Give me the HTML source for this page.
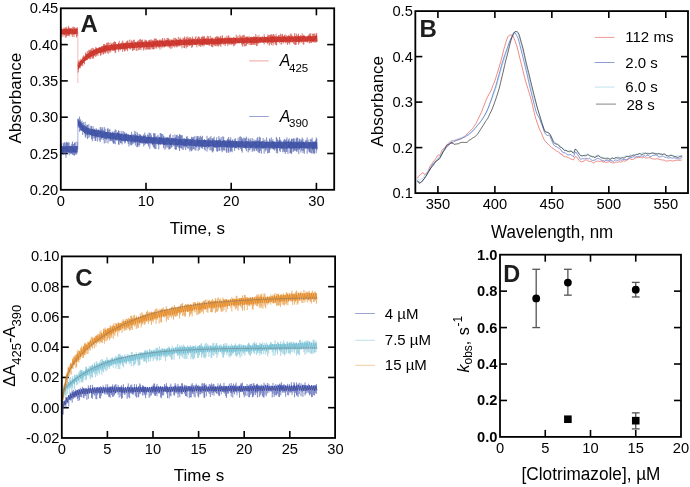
<!DOCTYPE html>
<html><head><meta charset="utf-8"><style>
html,body{margin:0;padding:0;background:#fff;width:690px;height:487px;overflow:hidden}
svg{display:block;will-change:transform}
text{font-family:"Liberation Sans",sans-serif;fill:#000}
</style></head><body>
<svg width="690" height="487" viewBox="0 0 690 487">
<rect width="690" height="487" fill="#fff"/>
<line x1="60.80" y1="153.50" x2="67.80" y2="153.50" stroke="#000" stroke-width="1.6"/>
<line x1="334.20" y1="153.50" x2="327.20" y2="153.50" stroke="#000" stroke-width="1.6"/>
<line x1="60.80" y1="117.20" x2="67.80" y2="117.20" stroke="#000" stroke-width="1.6"/>
<line x1="334.20" y1="117.20" x2="327.20" y2="117.20" stroke="#000" stroke-width="1.6"/>
<line x1="60.80" y1="80.90" x2="67.80" y2="80.90" stroke="#000" stroke-width="1.6"/>
<line x1="334.20" y1="80.90" x2="327.20" y2="80.90" stroke="#000" stroke-width="1.6"/>
<line x1="60.80" y1="44.60" x2="67.80" y2="44.60" stroke="#000" stroke-width="1.6"/>
<line x1="334.20" y1="44.60" x2="327.20" y2="44.60" stroke="#000" stroke-width="1.6"/>
<line x1="146.00" y1="189.80" x2="146.00" y2="182.80" stroke="#000" stroke-width="1.6"/>
<line x1="146.00" y1="8.30" x2="146.00" y2="15.30" stroke="#000" stroke-width="1.6"/>
<line x1="231.20" y1="189.80" x2="231.20" y2="182.80" stroke="#000" stroke-width="1.6"/>
<line x1="231.20" y1="8.30" x2="231.20" y2="15.30" stroke="#000" stroke-width="1.6"/>
<line x1="316.40" y1="189.80" x2="316.40" y2="182.80" stroke="#000" stroke-width="1.6"/>
<line x1="316.40" y1="8.30" x2="316.40" y2="15.30" stroke="#000" stroke-width="1.6"/>
<text transform="translate(58.30 13.30)" font-size="14.7" text-anchor="end" font-weight="normal" font-style="normal">0.45</text>
<text transform="translate(58.30 49.60)" font-size="14.7" text-anchor="end" font-weight="normal" font-style="normal">0.40</text>
<text transform="translate(58.30 85.90)" font-size="14.7" text-anchor="end" font-weight="normal" font-style="normal">0.35</text>
<text transform="translate(58.30 122.20)" font-size="14.7" text-anchor="end" font-weight="normal" font-style="normal">0.30</text>
<text transform="translate(58.30 158.50)" font-size="14.7" text-anchor="end" font-weight="normal" font-style="normal">0.25</text>
<text transform="translate(58.30 194.80)" font-size="14.7" text-anchor="end" font-weight="normal" font-style="normal">0.20</text>
<text transform="translate(60.80 206.00)" font-size="14.7" text-anchor="middle" font-weight="normal" font-style="normal">0</text>
<text transform="translate(146.00 206.00)" font-size="14.7" text-anchor="middle" font-weight="normal" font-style="normal">10</text>
<text transform="translate(231.20 206.00)" font-size="14.7" text-anchor="middle" font-weight="normal" font-style="normal">20</text>
<text transform="translate(316.40 206.00)" font-size="14.7" text-anchor="middle" font-weight="normal" font-style="normal">30</text>
<text transform="translate(20.50 98.20) rotate(-90)" font-size="17" text-anchor="middle" font-weight="normal" font-style="normal">Absorbance</text>
<text transform="translate(197.40 234.00)" font-size="17" text-anchor="middle" font-weight="normal" font-style="normal">Time, s</text>
<text transform="translate(80.50 31.60)" font-size="24" text-anchor="start" font-weight="bold" font-style="normal" style="fill:#1e1e1e">A</text>
<line x1="249.20" y1="60.90" x2="268.70" y2="60.90" stroke="#ec9a95" stroke-width="0.9"/>
<text transform="translate(279.70 66.30)" font-size="15.8" text-anchor="start" font-weight="normal" font-style="italic">A</text>
<text transform="translate(289.00 71.60)" font-size="11.5" text-anchor="start" font-weight="normal" font-style="normal">425</text>
<line x1="249.20" y1="116.50" x2="268.70" y2="116.50" stroke="#8d9bd0" stroke-width="0.9"/>
<text transform="translate(279.70 122.30)" font-size="15.8" text-anchor="start" font-weight="normal" font-style="italic">A</text>
<text transform="translate(289.00 127.40)" font-size="11.5" text-anchor="start" font-weight="normal" font-style="normal">390</text>
<line x1="77.84" y1="31.53" x2="77.84" y2="83.08" stroke="#efb5b2" stroke-width="0.9"/>
<line x1="77.84" y1="149.36" x2="77.84" y2="120.10" stroke="#9aa6d6" stroke-width="0.9"/>
<path d="M61.00 26.93V37.22M61.93 28.53V34.83M62.91 29.41V36.92M63.85 27.56V34.84M64.55 28.41V35.41M65.35 27.22V37.61M66.29 26.94V37.59M66.95 28.79V36.08M67.53 29.29V35.69M68.32 25.76V36.15M69.13 27.44V34.62M69.69 28.66V36.40M70.35 27.95V33.65M71.31 28.81V34.70M72.29 27.39V37.02M73.16 26.46V34.00M73.98 27.40V37.12M74.71 27.04V33.87M75.45 28.14V34.23M76.41 27.91V37.55M77.25 27.01V36.18" stroke="#c92e24" stroke-width="0.65" stroke-opacity="1.0" fill="none"/>
<polyline points="60.80,29.17 61.40,34.11 61.99,29.10 62.59,34.08 63.19,29.21 63.78,34.51 64.38,29.12 64.97,34.29 65.57,29.06 66.17,34.44 66.76,28.79 67.36,33.88 67.96,28.65 68.55,34.49 69.15,28.60 69.75,34.21 70.34,29.17 70.94,33.93 71.54,28.59 72.13,34.20 72.73,29.15 73.32,34.45 73.92,28.80 74.52,34.21 75.11,29.00 75.71,34.09 76.31,29.10 76.90,33.81 77.50,28.62" fill="none" stroke="#c92e24" stroke-width="0.75" stroke-opacity="1.0" stroke-linejoin="round"/>
<path d="M61.00 144.27V155.44M61.71 142.71V152.05M62.45 146.67V152.68M63.48 143.22V154.67M64.29 142.04V154.12M65.13 143.08V154.19M65.94 142.63V157.79M66.57 141.71V151.92M67.50 142.38V152.77M68.26 142.36V151.97M69.12 142.48V155.22M70.03 145.60V153.17M70.76 145.86V154.13M71.78 143.69V154.09M72.47 141.61V154.77M73.50 144.01V155.27M74.49 142.76V155.66M75.25 142.01V154.56M76.25 146.46V154.68M77.06 141.61V153.51" stroke="#3a4ea3" stroke-width="0.65" stroke-opacity="1.0" fill="none"/>
<polyline points="60.80,146.05 61.40,152.71 61.99,146.10 62.59,152.94 63.19,146.36 63.78,152.42 64.38,146.48 64.97,152.11 65.57,146.47 66.17,152.89 66.76,145.91 67.36,152.16 67.96,146.12 68.55,152.49 69.15,146.13 69.75,152.66 70.34,146.39 70.94,152.93 71.54,146.24 72.13,152.63 72.73,146.09 73.32,152.23 73.92,146.61 74.52,152.43 75.11,145.97 75.71,152.80 76.31,146.00 76.90,152.16 77.50,145.84" fill="none" stroke="#3a4ea3" stroke-width="0.75" stroke-opacity="1.0" stroke-linejoin="round"/>
<path d="M78.21 61.60V72.52M79.02 59.89V67.94M79.60 62.64V67.93M80.28 61.02V68.24M80.85 58.65V65.87M81.74 59.82V65.35M82.75 56.58V66.18M83.63 55.36V62.76M84.46 56.80V64.37M85.48 52.59V60.41M86.20 54.10V60.03M87.07 51.48V60.12M88.04 50.73V58.64M88.97 49.73V58.25M89.80 50.15V59.34M90.41 49.68V59.05M91.36 48.54V57.26M92.27 47.78V59.02M92.91 50.81V57.72M93.57 48.33V58.56M94.31 49.22V56.25M95.19 49.43V55.56M95.81 46.92V57.09M96.55 47.78V55.63M97.22 48.02V54.53M98.00 48.40V55.93M98.84 47.23V52.94M99.76 47.60V52.86M100.38 47.61V55.76M101.07 46.50V55.26M101.93 46.73V53.42M102.92 45.72V54.26M103.52 44.15V54.37M104.48 44.13V52.51M105.07 44.62V53.92M105.72 45.48V52.89M106.64 42.77V51.05M107.29 43.02V53.00M108.19 42.06V54.00M109.16 42.76V51.64M110.03 44.97V52.95M110.95 42.67V51.53M111.69 43.76V49.77M112.66 43.12V51.04M113.48 42.28V50.89M114.44 41.35V50.78M115.07 41.90V53.12M115.70 42.01V52.36M116.70 44.24V49.30M117.73 44.14V49.51M118.57 42.72V51.71M119.22 40.78V49.50M120.15 44.06V50.43M120.72 43.02V49.72M121.63 42.36V48.60M122.67 40.52V51.94M123.35 42.43V49.11M123.97 43.81V50.16M124.59 43.18V51.53M125.38 43.08V50.69M126.07 41.64V49.08M126.87 41.17V50.03M127.62 40.45V51.31M128.27 43.02V48.22M129.30 39.71V48.60M130.32 42.56V49.62M131.12 39.67V47.69M131.84 40.88V47.74M132.51 41.37V50.95M133.43 39.84V50.40M134.33 39.69V50.02M135.25 41.82V47.90M136.17 42.30V50.84M137.02 41.59V50.85M137.65 40.80V47.43M138.67 40.49V50.21M139.37 39.54V49.76M140.24 38.89V48.62M141.00 39.87V50.18M141.72 39.92V47.63M142.54 39.47V47.00M143.45 42.42V50.52M144.24 40.80V49.52M145.05 39.46V46.93M145.88 40.11V50.27M146.46 40.49V49.03M147.28 41.96V48.83M147.95 41.43V49.93M148.60 40.36V49.38M149.50 39.91V49.55M150.29 39.60V49.56M151.17 39.46V47.86M152.00 40.40V49.16M152.74 40.08V49.17M153.54 40.55V49.41M154.29 38.48V49.20M155.06 38.97V46.16M155.81 38.34V48.30M156.64 39.07V48.64M157.48 40.01V46.62M158.18 40.48V47.58M159.22 40.19V47.59M159.96 39.23V49.55M160.94 40.00V46.78M161.93 39.48V48.40M162.52 37.96V46.88M163.32 40.60V47.27M164.28 38.03V47.44M165.21 39.46V46.99M166.03 40.45V46.72M166.93 38.13V45.64M167.84 37.90V47.15M168.43 38.41V46.32M169.30 39.59V47.84M169.98 39.16V47.36M170.84 40.21V49.07M171.54 39.77V46.21M172.14 39.27V48.25M173.04 40.14V45.67M173.75 37.81V47.04M174.75 38.21V47.52M175.68 37.80V46.37M176.37 39.02V46.92M176.99 38.97V47.50M177.62 40.16V45.60M178.31 36.83V44.98M178.96 39.99V46.75M179.53 38.79V45.48M180.22 37.42V45.53M181.08 38.93V46.43M182.03 39.87V48.41M183.02 37.80V44.87M183.89 38.03V47.72M184.56 36.59V48.15M185.17 39.12V44.71M186.13 36.68V48.50M186.98 37.64V47.21M187.82 36.45V46.90M188.54 38.18V44.51M189.45 37.42V46.08M190.42 37.13V45.70M191.01 39.60V45.07M191.72 38.31V48.01M192.41 36.48V47.00M193.38 38.42V44.25M194.32 39.01V44.77M195.26 37.21V45.01M195.95 36.17V45.20M196.85 39.38V47.35M197.47 37.81V44.21M198.29 36.45V44.37M198.98 36.75V46.44M199.69 37.27V45.80M200.67 38.57V46.98M201.53 36.75V45.42M202.44 36.88V45.43M203.01 35.80V46.71M203.67 36.71V44.94M204.46 36.16V45.59M205.15 38.35V44.08M205.82 38.46V44.44M206.41 37.66V44.58M207.32 35.80V44.78M208.16 37.43V43.96M208.78 35.90V45.53M209.72 39.14V45.98M210.70 35.90V43.59M211.51 37.86V46.58M212.11 38.26V46.77M212.89 37.47V47.36M213.60 39.09V45.03M214.24 38.91V45.71M215.26 36.89V45.99M215.97 36.89V46.39M216.81 35.94V45.55M217.47 36.79V45.29M218.11 36.63V46.57M218.73 36.90V46.22M219.49 37.97V44.74M220.31 36.28V45.46M220.92 35.73V46.90M221.53 37.99V43.88M222.49 35.31V43.33M223.21 38.16V45.01M224.22 38.61V43.78M225.01 36.77V46.05M225.78 38.28V44.46M226.81 35.80V43.47M227.76 37.53V46.10M228.33 35.27V43.61M229.10 36.09V44.96M229.74 38.15V44.05M230.33 37.83V43.41M231.11 37.24V45.21M231.81 38.51V44.17M232.73 37.59V44.43M233.65 36.96V46.33M234.65 37.31V45.70M235.33 37.98V44.48M236.18 34.76V43.29M237.09 36.58V43.21M238.11 35.66V43.16M239.11 38.00V42.99M239.83 34.64V42.73M240.83 35.92V42.83M241.66 36.50V44.79M242.57 35.60V46.50M243.21 35.04V44.14M244.14 34.70V46.43M244.83 36.43V46.22M245.85 36.72V46.18M246.60 36.69V45.42M247.39 36.38V43.91M248.15 37.59V42.59M249.08 35.86V45.01M250.02 37.17V43.23M250.72 36.86V45.32M251.45 36.76V44.80M252.10 37.61V45.02M253.03 36.82V44.75M253.60 36.38V44.50M254.29 36.58V44.61M255.13 37.33V44.98M255.73 34.05V42.94M256.41 37.11V46.08M257.11 35.47V46.06M258.12 37.70V44.15M258.97 35.04V43.39M259.69 37.81V42.17M260.51 37.50V42.81M261.23 37.50V42.11M262.24 36.02V42.78M263.14 37.70V42.91M264.16 34.12V44.45M264.76 36.42V42.00M265.43 37.57V42.38M266.29 37.25V42.47M267.29 36.28V43.16M267.89 34.43V44.52M268.71 35.12V42.19M269.39 35.24V45.58M270.35 34.98V43.82M270.91 33.97V42.00M271.54 34.75V44.97M272.47 35.68V42.40M273.05 34.07V45.59M273.73 34.00V43.27M274.44 35.43V41.68M275.21 36.63V44.48M276.01 33.93V45.19M276.72 36.27V45.35M277.53 36.98V41.75M278.56 35.03V41.76M279.37 35.31V43.27M280.38 33.51V42.00M281.02 35.66V44.82M281.87 34.35V43.77M282.54 33.98V41.51M283.43 36.45V43.32M284.46 35.05V41.63M285.22 34.55V41.62M285.91 37.10V43.53M286.65 35.14V42.54M287.52 36.44V44.96M288.55 35.14V43.18M289.52 35.93V44.50M290.22 34.20V42.61M291.07 33.35V41.47M292.01 34.87V42.75M292.74 36.74V42.25M293.60 36.61V43.88M294.62 33.06V44.74M295.57 36.25V45.04M296.23 33.47V44.66M297.08 34.84V41.93M297.89 35.75V41.61M298.52 33.69V44.79M299.14 36.83V42.14M299.77 36.12V43.40M300.53 35.14V41.88M301.41 35.68V42.63M302.19 33.20V42.00M303.10 35.56V44.58M303.85 34.76V44.49M304.73 36.39V41.51M305.76 36.63V42.15M306.79 36.66V41.57M307.45 36.37V42.80M308.29 35.42V41.33M309.24 33.46V43.12M309.87 34.50V43.38M310.63 33.19V42.41M311.44 36.18V43.09M312.37 33.69V41.84M313.40 33.72V42.49M314.16 33.46V41.48M315.03 33.69V42.83M316.01 34.67V42.60M316.70 32.85V42.00" stroke="#c92e24" stroke-width="0.65" stroke-opacity="1.0" fill="none"/>
<polyline points="78.01,64.67 78.61,69.24 79.20,62.43 79.80,66.80 80.40,60.72 80.99,65.64 81.59,59.88 82.19,64.10 82.78,58.52 83.38,62.82 83.97,57.15 84.57,61.48 85.17,55.91 85.76,60.56 86.36,54.48 86.96,59.81 87.55,53.89 88.15,58.62 88.75,53.26 89.34,57.64 89.94,51.75 90.53,56.68 91.13,51.09 91.73,56.39 92.32,50.85 92.92,55.84 93.52,50.24 94.11,55.34 94.71,49.84 95.31,54.22 95.90,48.82 96.50,53.98 97.10,48.80 97.69,53.57 98.29,48.25 98.88,53.18 99.48,47.51 100.08,53.02 100.67,47.65 101.27,52.46 101.87,46.61 102.46,52.03 103.06,46.45 103.66,51.45 104.25,46.08 104.85,51.53 105.44,45.79 106.04,51.42 106.64,45.55 107.23,50.62 107.83,45.43 108.43,50.50 109.02,45.54 109.62,50.38 110.22,45.09 110.81,50.40 111.41,44.63 112.01,49.75 112.60,45.00 113.20,49.83 113.79,44.36 114.39,49.80 114.99,44.42 115.58,49.80 116.18,44.16 116.78,49.29 117.37,44.44 117.97,49.28 118.57,43.70 119.16,49.24 119.76,44.18 120.35,48.99 120.95,43.81 121.55,48.97 122.14,43.53 122.74,49.13 123.34,43.60 123.93,48.60 124.53,43.28 125.13,48.85 125.72,43.10 126.32,48.43 126.92,42.92 127.51,48.34 128.11,42.70 128.70,48.09 129.30,43.23 129.90,48.40 130.49,43.01 131.09,48.32 131.69,42.68 132.28,47.98 132.88,42.98 133.48,48.09 134.07,42.91 134.67,48.14 135.26,42.22 135.86,47.56 136.46,42.70 137.05,47.92 137.65,42.35 138.25,47.26 138.84,42.26 139.44,47.28 140.04,42.25 140.63,47.49 141.23,41.79 141.83,47.54 142.42,42.28 143.02,47.22 143.61,41.96 144.21,47.53 144.81,42.19 145.40,47.10 146.00,41.50 146.60,46.94 147.19,41.91 147.79,46.99 148.39,41.80 148.98,47.20 149.58,41.91 150.17,46.59 150.77,41.84 151.37,46.90 151.96,41.62 152.56,46.98 153.16,41.10 153.75,46.94 154.35,41.51 154.95,46.17 155.54,41.35 156.14,46.83 156.74,41.01 157.33,46.09 157.93,40.99 158.52,46.67 159.12,40.73 159.72,46.46 160.31,40.74 160.91,46.49 161.51,41.06 162.10,45.87 162.70,40.72 163.30,45.84 163.89,40.92 164.49,46.43 165.08,40.73 165.68,46.01 166.28,40.38 166.87,45.78 167.47,40.28 168.07,46.19 168.66,40.70 169.26,45.69 169.86,40.82 170.45,46.08 171.05,40.72 171.65,45.34 172.24,40.14 172.84,45.73 173.43,40.25 174.03,45.77 174.63,40.66 175.22,45.24 175.82,40.27 176.42,45.15 177.01,40.21 177.61,45.61 178.21,40.04 178.80,45.47 179.40,40.44 179.99,45.13 180.59,39.75 181.19,44.99 181.78,39.97 182.38,44.89 182.98,39.62 183.57,44.92 184.17,39.96 184.77,45.15 185.36,39.68 185.96,45.40 186.56,39.62 187.15,44.90 187.75,40.06 188.34,45.12 188.94,39.34 189.54,44.56 190.13,39.44 190.73,44.62 191.33,39.62 191.92,44.84 192.52,39.46 193.12,45.14 193.71,39.35 194.31,44.64 194.90,39.29 195.50,44.65 196.10,39.46 196.69,44.52 197.29,39.36 197.89,44.41 198.48,39.50 199.08,44.27 199.68,39.30 200.27,44.33 200.87,38.96 201.47,44.70 202.06,39.28 202.66,44.48 203.25,38.82 203.85,44.24 204.45,39.03 205.04,44.26 205.64,38.92 206.24,44.60 206.83,39.26 207.43,44.56 208.03,38.82 208.62,44.39 209.22,38.79 209.81,44.40 210.41,38.98 211.01,44.24 211.60,38.99 212.20,44.04 212.80,38.63 213.39,43.77 213.99,39.05 214.59,44.17 215.18,38.45 215.78,44.03 216.38,38.77 216.97,43.99 217.57,38.91 218.16,43.95 218.76,38.50 219.36,43.87 219.95,38.55 220.55,43.54 221.15,38.30 221.74,43.68 222.34,38.25 222.94,43.56 223.53,38.70 224.13,43.65 224.72,38.26 225.32,43.90 225.92,38.02 226.51,43.21 227.11,38.07 227.71,43.32 228.30,38.09 228.90,43.37 229.50,38.33 230.09,43.42 230.69,38.13 231.29,43.53 231.88,38.01 232.48,43.48 233.07,38.17 233.67,43.44 234.27,38.16 234.86,43.35 235.46,38.03 236.06,43.28 236.65,38.33 237.25,43.20 237.85,38.14 238.44,43.08 239.04,38.21 239.63,43.24 240.23,37.56 240.83,42.98 241.42,38.12 242.02,43.14 242.62,38.07 243.21,43.31 243.81,38.03 244.41,42.88 245.00,37.72 245.60,42.66 246.20,37.82 246.79,42.74 247.39,37.48 247.98,43.24 248.58,37.71 249.18,43.06 249.77,37.85 250.37,42.87 250.97,37.59 251.56,42.62 252.16,37.27 252.76,42.93 253.35,37.75 253.95,42.55 254.54,37.20 255.14,43.04 255.74,37.32 256.33,42.92 256.93,37.01 257.53,42.79 258.12,37.23 258.72,42.37 259.32,37.41 259.91,42.64 260.51,36.96 261.11,42.36 261.70,37.33 262.30,42.12 262.89,37.07 263.49,42.41 264.09,36.96 264.68,42.22 265.28,37.03 265.88,42.52 266.47,37.15 267.07,42.12 267.67,37.16 268.26,42.51 268.86,37.29 269.45,41.99 270.05,37.06 270.65,42.07 271.24,36.77 271.84,42.47 272.44,36.64 273.03,42.46 273.63,36.83 274.23,41.94 274.82,36.67 275.42,42.32 276.02,36.70 276.61,42.27 277.21,36.61 277.80,41.94 278.40,36.70 279.00,42.07 279.59,36.92 280.19,41.90 280.79,37.03 281.38,42.00 281.98,36.84 282.58,41.92 283.17,36.45 283.77,42.08 284.36,36.55 284.96,42.28 285.56,36.87 286.15,41.90 286.75,36.94 287.35,41.79 287.94,36.26 288.54,41.53 289.14,36.38 289.73,42.09 290.33,36.54 290.93,42.01 291.52,36.57 292.12,41.65 292.71,36.49 293.31,41.50 293.91,36.61 294.50,41.56 295.10,36.08 295.70,41.56 296.29,36.62 296.89,41.99 297.49,36.66 298.08,41.98 298.68,36.10 299.27,41.72 299.87,36.40 300.47,41.35 301.06,36.61 301.66,41.26 302.26,36.41 302.85,41.46 303.45,35.95 304.05,41.53 304.64,35.88 305.24,41.65 305.84,36.48 306.43,41.50 307.03,36.45 307.62,41.09 308.22,35.84 308.82,41.29 309.41,36.38 310.01,41.09 310.61,36.01 311.20,41.33 311.80,36.47 312.40,41.50 312.99,36.26 313.59,41.53 314.18,36.06 314.78,41.32 315.38,36.06 315.97,41.40 316.57,35.64 317.17,41.47" fill="none" stroke="#c92e24" stroke-width="0.75" stroke-opacity="1.0" stroke-linejoin="round"/>
<path d="M78.21 119.03V127.67M78.88 120.16V127.03M79.56 116.60V131.76M80.53 119.41V130.35M81.28 121.73V131.10M82.04 120.70V130.47M82.73 122.93V135.00M83.60 122.26V131.97M84.25 124.99V133.56M85.17 121.78V136.72M85.75 125.91V137.81M86.75 124.76V135.34M87.48 124.85V139.00M88.21 127.57V133.68M88.83 124.16V137.94M89.87 128.80V136.60M90.81 125.83V134.94M91.56 126.17V139.18M92.34 128.84V141.20M93.12 126.13V138.59M93.72 128.91V135.66M94.37 129.26V138.10M95.09 128.53V140.87M95.66 130.08V140.94M96.48 128.40V137.59M97.30 129.76V141.60M98.25 129.40V136.37M99.24 129.71V140.67M100.21 127.14V142.18M101.00 127.05V139.72M101.69 129.16V139.02M102.62 127.39V137.92M103.26 129.96V140.12M104.28 127.06V143.57M105.19 128.67V139.19M105.93 132.50V142.97M106.62 132.19V139.72M107.33 128.76V137.82M108.00 127.91V143.44M108.87 129.90V139.46M109.85 128.94V141.50M110.48 132.04V140.73M111.20 132.99V141.01M111.98 131.87V140.98M112.70 131.48V142.61M113.50 132.58V143.87M114.30 131.26V143.45M115.22 129.24V144.22M116.10 130.06V140.09M117.00 132.75V140.87M117.62 132.05V139.40M118.49 130.24V144.43M119.11 130.91V144.92M119.69 133.44V141.29M120.47 133.66V143.15M121.20 131.10V143.20M122.09 133.46V144.45M123.00 130.96V140.41M124.02 131.88V141.86M124.78 132.30V143.55M125.46 133.77V142.63M126.40 132.93V140.63M127.17 134.32V140.55M128.20 133.93V144.08M128.94 135.34V146.53M129.94 134.72V143.50M130.68 134.91V145.17M131.62 131.75V145.36M132.19 134.73V144.38M133.09 133.96V144.05M134.05 136.06V142.98M134.75 130.80V142.78M135.33 134.03V145.59M135.96 131.77V142.71M136.86 135.59V147.25M137.52 132.52V147.04M138.20 136.10V145.46M139.00 134.06V146.81M139.78 134.03V144.98M140.56 134.61V142.93M141.26 135.45V143.56M142.20 136.37V143.37M143.01 135.35V143.67M143.75 134.38V146.56M144.78 132.54V145.07M145.55 135.02V143.90M146.57 137.01V143.76M147.45 134.23V144.32M148.46 135.30V146.47M149.06 132.71V143.31M149.81 132.80V148.85M150.81 133.20V144.31M151.38 135.31V143.25M152.40 137.83V145.03M153.06 137.86V146.22M153.66 133.03V147.49M154.39 133.41V148.26M155.11 133.43V149.17M155.97 136.22V149.05M156.98 136.32V143.83M157.96 134.65V144.85M158.79 136.67V149.38M159.51 137.34V143.74M160.24 133.03V144.93M161.02 133.18V143.61M161.72 134.06V144.24M162.72 134.06V144.62M163.57 135.65V148.25M164.28 136.64V145.36M164.98 137.83V149.72M165.96 136.88V148.41M166.76 137.37V146.23M167.78 137.10V147.78M168.79 137.41V149.34M169.41 135.05V149.37M170.37 133.78V148.80M171.40 137.67V147.64M172.06 138.79V147.14M172.97 135.02V144.45M173.98 138.00V146.30M174.94 134.50V149.24M175.66 136.91V149.92M176.39 135.07V149.62M177.18 134.61V147.08M178.10 136.07V146.78M178.91 136.30V148.16M179.52 134.21V150.99M180.10 134.51V148.19M180.72 135.22V147.59M181.63 135.23V148.32M182.21 135.29V149.36M183.21 138.37V150.00M184.19 137.96V147.62M184.91 139.91V146.49M185.62 139.38V150.00M186.39 136.89V146.91M187.12 135.91V148.15M187.97 137.77V148.75M188.96 138.67V148.55M189.85 139.70V151.47M190.65 138.87V150.20M191.60 136.79V151.26M192.20 137.39V150.16M193.20 136.80V149.29M193.95 137.22V149.01M194.94 135.86V150.24M195.95 140.08V150.49M196.73 136.35V147.45M197.51 135.98V145.78M198.21 137.86V151.12M198.90 136.04V147.20M199.61 137.55V149.89M200.59 135.80V147.30M201.51 137.18V148.22M202.44 135.77V148.86M203.44 140.04V146.87M204.37 139.10V149.63M205.17 140.01V150.75M206.08 140.05V147.57M207.03 135.86V151.57M207.83 138.89V148.84M208.47 138.20V147.47M209.11 138.86V146.41M209.90 137.15V150.25M210.92 136.14V150.17M211.92 138.60V151.28M212.61 138.17V152.48M213.46 138.31V151.25M214.17 136.55V146.28M214.84 140.17V147.85M215.86 141.04V148.15M216.69 137.33V151.27M217.44 140.01V151.80M218.06 140.88V147.79M218.85 136.08V151.04M219.68 138.42V150.84M220.54 139.46V146.96M221.20 137.03V150.50M222.14 141.12V152.26M222.89 136.29V150.29M223.71 136.90V150.51M224.59 140.56V150.40M225.32 141.03V147.35M226.11 140.03V151.48M226.73 141.41V153.01M227.44 138.70V147.91M228.10 139.31V151.70M228.68 136.93V153.01M229.51 139.58V148.12M230.16 139.80V152.15M230.72 137.27V150.97M231.29 141.22V151.42M232.17 139.90V152.26M232.83 139.29V147.43M233.70 141.18V147.87M234.63 138.93V151.03M235.54 138.37V148.03M236.44 141.09V148.52M237.21 141.12V147.47M238.09 137.68V149.21M238.83 140.64V150.21M239.67 136.67V147.10M240.67 136.37V149.11M241.58 137.30V151.11M242.28 138.43V152.60M242.89 139.23V147.06M243.85 137.61V147.23M244.77 138.10V147.77M245.58 138.13V149.14M246.38 136.57V151.11M247.18 141.59V147.78M248.15 137.89V152.44M248.99 138.82V150.48M249.90 140.19V150.28M250.69 138.38V148.47M251.26 141.55V148.24M252.23 138.11V151.97M253.01 141.50V150.13M253.98 139.28V151.23M254.72 141.27V151.21M255.51 140.21V148.83M256.41 140.38V150.91M257.09 137.99V149.61M257.88 137.05V151.86M258.79 140.30V152.67M259.54 136.74V153.04M260.42 137.62V150.77M261.33 141.52V153.67M262.27 141.44V148.84M263.11 138.04V148.24M264.13 140.35V153.76M265.05 139.59V149.66M265.66 141.79V151.41M266.59 137.30V149.70M267.60 140.67V153.45M268.60 141.46V152.95M269.50 138.47V152.83M270.31 139.55V149.77M271.29 137.40V148.44M272.22 140.85V148.60M272.87 139.22V149.23M273.55 141.84V149.54M274.48 142.28V150.57M275.33 142.14V149.36M276.33 136.95V152.99M276.97 138.23V150.40M277.61 139.79V153.48M278.59 140.30V147.90M279.58 137.04V150.83M280.25 139.48V152.04M281.04 140.54V149.13M281.75 142.21V149.19M282.76 142.45V152.27M283.70 140.28V151.42M284.37 138.84V152.16M285.28 139.82V153.88M286.26 139.39V152.01M286.95 137.36V151.78M287.94 140.97V153.98M288.55 139.65V148.32M289.20 138.37V148.04M289.94 141.52V153.15M290.54 140.73V153.19M291.43 138.73V154.08M292.00 138.94V152.48M292.92 138.68V148.12M293.52 138.36V151.63M294.21 142.57V151.13M294.81 138.51V149.88M295.76 142.11V150.89M296.37 138.35V151.32M297.04 137.35V152.12M297.76 137.95V150.17M298.77 141.03V154.10M299.36 138.63V149.60M300.13 139.18V148.01M300.80 142.11V152.53M301.46 139.95V149.86M302.14 137.55V151.03M303.01 138.83V153.08M303.69 142.28V150.79M304.34 142.60V153.73M305.20 140.44V148.65M306.12 139.80V148.90M307.15 137.51V153.80M308.11 139.82V149.74M308.98 141.92V151.80M309.57 142.68V152.45M310.30 138.93V152.87M311.26 139.38V153.31M312.14 137.68V153.65M312.72 141.31V150.35M313.40 141.81V153.50M313.97 141.79V152.77M314.64 141.37V154.12M315.56 140.33V148.73M316.25 137.41V152.99M316.85 138.92V150.29" stroke="#3a4ea3" stroke-width="0.65" stroke-opacity="1.0" fill="none"/>
<polyline points="78.01,118.54 78.61,125.55 79.20,121.09 79.80,127.72 80.40,122.13 80.99,129.85 81.59,123.69 82.19,130.97 82.78,125.25 83.38,131.61 83.97,125.51 84.57,133.00 85.17,126.66 85.76,133.47 86.36,126.83 86.96,134.23 87.55,127.92 88.15,134.41 88.75,128.28 89.34,134.65 89.94,128.61 90.53,134.85 91.13,129.36 91.73,135.63 92.32,129.07 92.92,136.00 93.52,129.85 94.11,135.74 94.71,129.72 95.31,136.63 95.90,130.09 96.50,136.22 97.10,130.23 97.69,137.14 98.29,130.21 98.88,137.32 99.48,130.85 100.08,136.97 100.67,130.66 101.27,137.66 101.87,130.89 102.46,137.51 103.06,131.60 103.66,137.58 104.25,131.28 104.85,138.39 105.44,131.93 106.04,138.54 106.64,132.11 107.23,138.35 107.83,132.13 108.43,138.33 109.02,132.58 109.62,138.55 110.22,132.77 110.81,138.96 111.41,133.09 112.01,139.37 112.60,133.20 113.20,139.24 113.79,132.95 114.39,139.13 114.99,133.33 115.58,139.68 116.18,133.36 116.78,140.14 117.37,133.31 117.97,139.61 118.57,133.43 119.16,140.15 119.76,133.73 120.35,139.96 120.95,134.07 121.55,140.60 122.14,133.92 122.74,140.84 123.34,134.59 123.93,141.01 124.53,134.42 125.13,141.01 125.72,134.31 126.32,140.91 126.92,134.39 127.51,141.48 128.11,134.63 128.70,141.17 129.30,135.02 129.90,141.12 130.49,134.94 131.09,141.89 131.69,135.61 132.28,141.89 132.88,135.26 133.48,141.38 134.07,135.19 134.67,141.91 135.26,135.89 135.86,141.63 136.46,135.56 137.05,142.02 137.65,135.92 138.25,142.01 138.84,135.95 139.44,142.31 140.04,135.89 140.63,142.67 141.23,136.08 141.83,142.41 142.42,136.78 143.02,143.09 143.61,136.11 144.21,142.98 144.81,136.23 145.40,143.14 146.00,136.62 146.60,142.99 147.19,136.95 147.79,143.16 148.39,137.17 148.98,143.20 149.58,137.01 150.17,142.95 150.77,137.21 151.37,143.27 151.96,137.09 152.56,143.84 153.16,137.21 153.75,143.80 154.35,137.30 154.95,143.53 155.54,137.61 156.14,144.15 156.74,137.18 157.33,143.64 157.93,138.11 158.52,144.43 159.12,137.44 159.72,144.20 160.31,137.56 160.91,144.27 161.51,137.57 162.10,144.04 162.70,138.06 163.30,144.51 163.89,138.35 164.49,144.63 165.08,138.39 165.68,144.70 166.28,137.98 166.87,144.52 167.47,137.89 168.07,144.79 168.66,138.18 169.26,144.31 169.86,138.83 170.45,145.01 171.05,138.16 171.65,145.01 172.24,138.25 172.84,144.56 173.43,138.34 174.03,145.37 174.63,138.65 175.22,145.04 175.82,138.65 176.42,144.94 177.01,138.75 177.61,145.41 178.21,138.93 178.80,145.08 179.40,139.48 179.99,145.09 180.59,138.79 181.19,145.17 181.78,139.54 182.38,145.26 182.98,139.20 183.57,145.63 184.17,138.94 184.77,145.93 185.36,138.92 185.96,146.01 186.56,139.44 187.15,145.40 187.75,139.04 188.34,145.54 188.94,139.40 189.54,145.62 190.13,139.28 190.73,145.62 191.33,139.69 191.92,145.69 192.52,139.35 193.12,146.10 193.71,139.61 194.31,145.88 194.90,140.07 195.50,146.42 196.10,139.59 196.69,146.36 197.29,139.43 197.89,146.25 198.48,140.21 199.08,146.35 199.68,140.16 200.27,146.31 200.87,140.05 201.47,146.40 202.06,139.68 202.66,146.67 203.25,140.19 203.85,146.72 204.45,139.83 205.04,146.72 205.64,140.15 206.24,146.88 206.83,140.25 207.43,146.21 208.03,140.49 208.62,146.75 209.22,140.43 209.81,146.58 210.41,140.45 211.01,146.41 211.60,140.77 212.20,146.32 212.80,140.29 213.39,146.61 213.99,140.52 214.59,147.19 215.18,140.41 215.78,147.12 216.38,140.32 216.97,147.29 217.57,140.99 218.16,146.81 218.76,140.23 219.36,146.92 219.95,140.26 220.55,146.70 221.15,141.10 221.74,147.37 222.34,140.82 222.94,147.06 223.53,140.38 224.13,146.83 224.72,140.38 225.32,147.03 225.92,141.06 226.51,146.91 227.11,140.85 227.71,147.15 228.30,140.55 228.90,146.81 229.50,141.34 230.09,146.93 230.69,140.86 231.29,147.53 231.88,141.01 232.48,147.41 233.07,140.89 233.67,146.90 234.27,141.27 234.86,147.81 235.46,141.23 236.06,147.79 236.65,141.11 237.25,147.17 237.85,141.58 238.44,147.19 239.04,141.32 239.63,147.41 240.23,141.23 240.83,147.54 241.42,141.23 242.02,147.10 242.62,141.44 243.21,147.96 243.81,141.68 244.41,147.78 245.00,141.30 245.60,147.78 246.20,141.46 246.79,147.50 247.39,141.32 247.98,148.01 248.58,141.51 249.18,147.29 249.77,141.79 250.37,148.03 250.97,141.57 251.56,147.37 252.16,141.33 252.76,148.04 253.35,141.35 253.95,147.44 254.54,141.55 255.14,147.56 255.74,141.92 256.33,148.21 256.93,141.54 257.53,147.49 258.12,141.18 258.72,148.27 259.32,141.26 259.91,147.63 260.51,141.84 261.11,147.90 261.70,141.51 262.30,148.23 262.89,141.18 263.49,148.28 264.09,141.76 264.68,148.01 265.28,141.98 265.88,147.96 266.47,142.04 267.07,147.61 267.67,142.01 268.26,147.80 268.86,141.86 269.45,148.18 270.05,142.09 270.65,147.67 271.24,141.58 271.84,148.19 272.44,141.55 273.03,148.25 273.63,141.61 274.23,148.11 274.82,141.55 275.42,147.70 276.02,142.05 276.61,148.31 277.21,142.08 277.80,148.14 278.40,142.03 279.00,148.06 279.59,141.53 280.19,148.28 280.79,141.90 281.38,147.95 281.98,141.59 282.58,148.31 283.17,141.93 283.77,148.51 284.36,141.71 284.96,148.63 285.56,141.75 286.15,148.57 286.75,141.87 287.35,148.41 287.94,141.62 288.54,147.87 289.14,141.96 289.73,148.34 290.33,142.35 290.93,148.52 291.52,141.77 292.12,148.66 292.71,142.09 293.31,148.26 293.91,141.62 294.50,148.21 295.10,141.70 295.70,148.24 296.29,142.16 296.89,148.12 297.49,142.28 298.08,148.27 298.68,142.34 299.27,148.63 299.87,141.62 300.47,147.99 301.06,142.46 301.66,147.91 302.26,141.68 302.85,147.99 303.45,141.91 304.05,148.20 304.64,142.36 305.24,148.16 305.84,141.93 306.43,147.97 307.03,141.78 307.62,148.47 308.22,142.35 308.82,148.16 309.41,141.99 310.01,148.55 310.61,142.30 311.20,148.29 311.80,142.18 312.40,148.82 312.99,142.12 313.59,148.76 314.18,142.03 314.78,148.52 315.38,142.18 315.97,148.64 316.57,142.19 317.17,148.69" fill="none" stroke="#3a4ea3" stroke-width="0.75" stroke-opacity="1.0" stroke-linejoin="round"/>
<line x1="415.34" y1="147.60" x2="422.34" y2="147.60" stroke="#000" stroke-width="1.6"/>
<line x1="688.00" y1="147.60" x2="681.00" y2="147.60" stroke="#000" stroke-width="1.6"/>
<line x1="415.34" y1="102.10" x2="422.34" y2="102.10" stroke="#000" stroke-width="1.6"/>
<line x1="688.00" y1="102.10" x2="681.00" y2="102.10" stroke="#000" stroke-width="1.6"/>
<line x1="415.34" y1="56.60" x2="422.34" y2="56.60" stroke="#000" stroke-width="1.6"/>
<line x1="688.00" y1="56.60" x2="681.00" y2="56.60" stroke="#000" stroke-width="1.6"/>
<line x1="437.90" y1="193.10" x2="437.90" y2="186.10" stroke="#000" stroke-width="1.6"/>
<line x1="437.90" y1="11.10" x2="437.90" y2="18.10" stroke="#000" stroke-width="1.6"/>
<line x1="494.88" y1="193.10" x2="494.88" y2="186.10" stroke="#000" stroke-width="1.6"/>
<line x1="494.88" y1="11.10" x2="494.88" y2="18.10" stroke="#000" stroke-width="1.6"/>
<line x1="551.85" y1="193.10" x2="551.85" y2="186.10" stroke="#000" stroke-width="1.6"/>
<line x1="551.85" y1="11.10" x2="551.85" y2="18.10" stroke="#000" stroke-width="1.6"/>
<line x1="608.82" y1="193.10" x2="608.82" y2="186.10" stroke="#000" stroke-width="1.6"/>
<line x1="608.82" y1="11.10" x2="608.82" y2="18.10" stroke="#000" stroke-width="1.6"/>
<line x1="665.80" y1="193.10" x2="665.80" y2="186.10" stroke="#000" stroke-width="1.6"/>
<line x1="665.80" y1="11.10" x2="665.80" y2="18.10" stroke="#000" stroke-width="1.6"/>
<text transform="translate(412.80 16.10)" font-size="14.7" text-anchor="end" font-weight="normal" font-style="normal">0.5</text>
<text transform="translate(412.80 61.60)" font-size="14.7" text-anchor="end" font-weight="normal" font-style="normal">0.4</text>
<text transform="translate(412.80 107.10)" font-size="14.7" text-anchor="end" font-weight="normal" font-style="normal">0.3</text>
<text transform="translate(412.80 152.60)" font-size="14.7" text-anchor="end" font-weight="normal" font-style="normal">0.2</text>
<text transform="translate(412.80 198.10)" font-size="14.7" text-anchor="end" font-weight="normal" font-style="normal">0.1</text>
<text transform="translate(437.90 208.80)" font-size="14.7" text-anchor="middle" font-weight="normal" font-style="normal">350</text>
<text transform="translate(494.88 208.80)" font-size="14.7" text-anchor="middle" font-weight="normal" font-style="normal">400</text>
<text transform="translate(551.85 208.80)" font-size="14.7" text-anchor="middle" font-weight="normal" font-style="normal">450</text>
<text transform="translate(608.82 208.80)" font-size="14.7" text-anchor="middle" font-weight="normal" font-style="normal">500</text>
<text transform="translate(665.80 208.80)" font-size="14.7" text-anchor="middle" font-weight="normal" font-style="normal">550</text>
<text transform="translate(382.60 101.30) rotate(-90)" font-size="17" text-anchor="middle" font-weight="normal" font-style="normal">Absorbance</text>
<text transform="translate(552.20 238.00) scale(1 1.05)" font-size="17" text-anchor="middle" font-weight="normal" font-style="normal">Wavelength, nm</text>
<text transform="translate(419.50 37.10)" font-size="24" text-anchor="start" font-weight="bold" font-style="normal" style="fill:#1e1e1e">B</text>
<line x1="594.80" y1="37.40" x2="614.50" y2="37.40" stroke="#ee8f8a" stroke-width="0.9"/>
<text transform="translate(625.30 42.20)" font-size="15" text-anchor="start" font-weight="normal" font-style="normal">112 ms</text>
<line x1="594.80" y1="62.50" x2="614.50" y2="62.50" stroke="#8193d0" stroke-width="0.9"/>
<text transform="translate(625.30 67.50)" font-size="15" text-anchor="start" font-weight="normal" font-style="normal">2.0 s</text>
<line x1="594.80" y1="87.10" x2="614.50" y2="87.10" stroke="#b9e0ee" stroke-width="0.9"/>
<text transform="translate(625.30 92.20)" font-size="15" text-anchor="start" font-weight="normal" font-style="normal">6.0 s</text>
<line x1="596.00" y1="104.10" x2="615.90" y2="104.10" stroke="#777" stroke-width="0.9"/>
<text transform="translate(626.50 109.60)" font-size="15" text-anchor="start" font-weight="normal" font-style="normal">28 s</text>
<polyline points="417.40,178.32 418.20,176.80 419.00,175.65 419.80,175.34 420.60,174.48 421.40,173.95 422.20,172.88 423.00,173.06 423.80,173.29 424.60,174.56 425.40,174.34 426.20,174.01 427.00,172.71 427.80,171.88 428.60,169.80 429.40,167.73 430.20,166.00 431.00,165.02 431.80,164.04 432.60,162.83 433.40,161.29 434.20,160.68 435.00,159.74 435.80,158.53 436.60,157.23 437.40,155.84 438.20,154.88 439.00,154.90 439.80,155.30 440.60,154.14 441.40,151.54 442.20,149.74 443.00,149.10 443.80,148.51 444.60,147.88 445.40,147.17 446.20,146.05 447.00,144.66 447.80,143.80 448.60,143.20 449.40,143.07 450.20,142.57 451.00,141.90 451.80,141.12 452.60,140.51 453.40,140.41 454.20,140.27 455.00,140.26 455.80,140.06 456.60,139.87 457.40,139.65 458.20,139.63 459.00,139.39 459.80,139.21 460.60,138.83 461.40,138.69 462.20,138.09 463.00,137.70 463.80,137.06 464.60,136.49 465.40,135.41 466.20,134.61 467.00,133.87 467.80,133.13 468.60,132.47 469.40,131.66 470.20,130.82 471.00,129.97 471.80,129.26 472.60,128.53 473.40,127.31 474.20,126.21 475.00,124.90 475.80,123.85 476.60,122.20 477.40,120.69 478.20,118.93 479.00,117.30 479.80,115.57 480.60,114.02 481.40,112.26 482.20,110.24 483.00,108.10 483.80,106.09 484.60,104.11 485.40,101.88 486.20,99.82 487.00,98.06 487.80,96.46 488.60,94.88 489.40,93.40 490.20,92.14 491.00,90.54 491.80,88.50 492.60,86.31 493.40,84.28 494.20,82.35 495.00,80.25 495.80,77.93 496.60,75.38 497.40,72.78 498.20,70.09 499.00,67.51 499.80,64.76 500.60,62.25 501.40,59.27 502.20,56.09 503.00,52.59 503.80,49.44 504.60,46.57 505.40,44.08 506.20,41.38 507.00,39.03 507.80,36.95 508.60,35.77 509.40,35.29 510.20,35.04 511.00,35.00 511.80,35.06 512.60,35.54 513.40,36.75 514.20,38.81 515.00,40.89 515.80,43.10 516.60,45.34 517.40,48.08 518.20,51.25 519.00,54.77 519.80,58.05 520.60,61.17 521.40,64.25 522.20,67.53 523.00,70.74 523.80,74.18 524.60,77.45 525.40,80.51 526.20,83.18 527.00,85.85 527.80,88.45 528.60,90.92 529.40,93.58 530.20,96.21 531.00,99.10 531.80,102.17 532.60,105.62 533.40,109.13 534.20,112.55 535.00,115.69 535.80,118.69 536.60,121.00 537.40,123.51 538.20,125.57 539.00,127.96 539.80,129.76 540.60,131.57 541.40,133.14 542.20,135.10 543.00,137.05 543.80,138.99 544.60,140.32 545.40,141.58 546.20,142.05 547.00,143.12 547.80,143.84 548.60,144.71 549.40,145.29 550.20,145.97 551.00,146.84 551.80,147.64 552.60,148.19 553.40,148.61 554.20,149.34 555.00,149.66 555.80,150.28 556.60,151.06 557.40,151.36 558.20,151.88 559.00,152.18 559.80,152.95 560.60,154.26 561.40,153.91 562.20,155.13 563.00,155.31 563.80,156.61 564.60,156.60 565.40,156.70 566.20,156.63 567.00,157.27 567.80,157.27 568.60,157.79 569.40,158.20 570.20,158.60 571.00,159.02 571.80,159.22 572.60,159.47 573.40,159.99 574.20,158.82 575.00,156.82 575.80,156.55 576.60,156.86 577.40,157.96 578.20,159.00 579.00,160.01 579.80,161.21 580.60,161.45 581.40,161.88 582.20,161.50 583.00,161.67 583.80,161.01 584.60,160.61 585.40,159.83 586.20,159.89 587.00,160.12 587.80,160.92 588.60,161.26 589.40,161.40 590.20,161.21 591.00,161.42 591.80,161.77 592.60,162.54 593.40,162.92 594.20,162.79 595.00,161.96 595.80,161.52 596.60,161.28 597.40,161.16 598.20,161.18 599.00,161.18 599.80,161.42 600.60,161.30 601.40,161.20 602.20,161.74 603.00,161.74 603.80,162.17 604.60,161.77 605.40,162.25 606.20,162.36 607.00,162.54 607.80,161.92 608.60,161.90 609.40,161.51 610.20,161.99 611.00,162.08 611.80,162.42 612.60,162.81 613.40,162.80 614.20,162.90 615.00,162.37 615.80,162.12 616.60,162.14 617.40,162.30 618.20,161.94 619.00,161.88 619.80,161.65 620.60,162.12 621.40,161.88 622.20,161.35 623.00,160.71 623.80,160.93 624.60,161.17 625.40,160.96 626.20,160.43 627.00,160.11 627.80,159.83 628.60,159.00 629.40,158.52 630.20,158.88 631.00,159.27 631.80,159.45 632.60,159.30 633.40,159.30 634.20,158.67 635.00,158.34 635.80,157.79 636.60,157.82 637.40,157.59 638.20,157.60 639.00,157.70 639.80,157.36 640.60,157.19 641.40,157.72 642.20,157.82 643.00,157.53 643.80,157.12 644.60,157.57 645.40,158.15 646.20,157.85 647.00,158.01 647.80,157.76 648.60,157.83 649.40,157.50 650.20,157.74 651.00,158.28 651.80,158.67 652.60,158.77 653.40,158.94 654.20,158.93 655.00,159.32 655.80,158.90 656.60,158.65 657.40,158.80 658.20,158.97 659.00,159.44 659.80,159.36 660.60,159.70 661.40,159.75 662.20,160.19 663.00,159.76 663.80,160.16 664.60,160.45 665.40,161.16 666.20,160.99 667.00,160.66 667.80,161.16 668.60,160.91 669.40,160.79 670.20,160.32 671.00,160.79 671.80,160.82 672.60,161.04 673.40,160.80 674.20,160.76 675.00,160.40 675.80,160.30 676.60,160.21 677.40,160.29 678.20,160.09 679.00,160.44 679.80,160.36 680.60,160.22 681.40,160.00 682.20,159.93" fill="none" stroke="#e4574f" stroke-width="0.7" stroke-opacity="1.0" stroke-linejoin="round"/>
<polyline points="417.40,178.93 418.20,179.50 419.00,180.14 419.80,180.11 420.60,179.71 421.40,179.18 422.20,179.12 423.00,177.95 423.80,177.10 424.60,175.51 425.40,174.69 426.20,173.03 427.00,172.23 427.80,171.09 428.60,170.82 429.40,169.06 430.20,167.91 431.00,166.16 431.80,164.98 432.60,164.20 433.40,163.20 434.20,162.19 435.00,161.11 435.80,160.66 436.60,160.16 437.40,159.09 438.20,157.75 439.00,156.78 439.80,155.97 440.60,154.95 441.40,153.24 442.20,151.89 443.00,150.67 443.80,149.88 444.60,148.80 445.40,148.23 446.20,146.86 447.00,146.81 447.80,145.54 448.60,144.84 449.40,142.96 450.20,141.16 451.00,140.46 451.80,140.28 452.60,141.39 453.40,140.76 454.20,141.02 455.00,140.03 455.80,139.94 456.60,139.20 457.40,138.94 458.20,138.54 459.00,138.57 459.80,138.27 460.60,137.89 461.40,137.60 462.20,137.33 463.00,137.17 463.80,136.82 464.60,136.49 465.40,136.05 466.20,135.42 467.00,134.75 467.80,134.44 468.60,134.16 469.40,133.79 470.20,133.02 471.00,132.30 471.80,131.57 472.60,130.81 473.40,129.92 474.20,129.28 475.00,128.45 475.80,127.55 476.60,126.29 477.40,125.25 478.20,124.42 479.00,123.63 479.80,122.65 480.60,121.52 481.40,120.31 482.20,119.07 483.00,118.00 483.80,116.81 484.60,115.86 485.40,114.28 486.20,112.79 487.00,111.07 487.80,109.44 488.60,107.53 489.40,105.44 490.20,103.49 491.00,101.60 491.80,99.55 492.60,97.44 493.40,95.27 494.20,93.03 495.00,90.63 495.80,88.11 496.60,85.58 497.40,82.97 498.20,80.22 499.00,77.34 499.80,74.32 500.60,71.26 501.40,68.22 502.20,65.48 503.00,62.90 503.80,60.49 504.60,57.90 505.40,55.45 506.20,52.92 507.00,50.51 507.80,47.89 508.60,45.34 509.40,42.95 510.20,40.73 511.00,38.76 511.80,37.00 512.60,35.40 513.40,33.85 514.20,32.25 515.00,31.65 515.80,31.66 516.60,32.24 517.40,33.18 518.20,34.27 519.00,36.41 519.80,39.13 520.60,42.29 521.40,45.22 522.20,48.07 523.00,51.28 523.80,54.66 524.60,58.43 525.40,62.01 526.20,65.81 527.00,69.24 527.80,72.75 528.60,76.07 529.40,79.50 530.20,82.91 531.00,86.32 531.80,89.43 532.60,92.44 533.40,95.49 534.20,98.36 535.00,101.01 535.80,103.32 536.60,105.77 537.40,108.42 538.20,110.95 539.00,113.52 539.80,115.93 540.60,119.27 541.40,121.51 542.20,123.86 543.00,125.81 543.80,128.29 544.60,129.92 545.40,131.00 546.20,132.01 547.00,132.51 547.80,132.97 548.60,133.27 549.40,133.87 550.20,134.79 551.00,136.11 551.80,138.24 552.60,140.16 553.40,141.61 554.20,141.90 555.00,142.40 555.80,142.76 556.60,143.52 557.40,144.15 558.20,144.37 559.00,144.85 559.80,145.50 560.60,146.70 561.40,147.16 562.20,148.03 563.00,148.51 563.80,149.09 564.60,149.07 565.40,149.67 566.20,150.50 567.00,151.22 567.80,151.39 568.60,150.93 569.40,150.57 570.20,150.41 571.00,150.84 571.80,151.04 572.60,152.06 573.40,152.74 574.20,151.68 575.00,149.39 575.80,149.04 576.60,149.50 577.40,150.40 578.20,152.27 579.00,154.20 579.80,155.30 580.60,155.89 581.40,155.59 582.20,156.01 583.00,155.70 583.80,155.52 584.60,155.18 585.40,154.71 586.20,154.46 587.00,153.82 587.80,154.08 588.60,154.47 589.40,155.11 590.20,155.34 591.00,156.15 591.80,156.48 592.60,156.76 593.40,156.95 594.20,157.48 595.00,157.48 595.80,156.22 596.60,155.22 597.40,155.07 598.20,155.60 599.00,156.40 599.80,156.28 600.60,156.87 601.40,156.77 602.20,157.84 603.00,157.97 603.80,158.56 604.60,158.13 605.40,157.86 606.20,157.37 607.00,157.43 607.80,157.56 608.60,158.17 609.40,158.67 610.20,159.00 611.00,158.44 611.80,158.06 612.60,157.79 613.40,158.37 614.20,158.43 615.00,158.66 615.80,158.13 616.60,157.47 617.40,157.08 618.20,156.81 619.00,157.31 619.80,157.43 620.60,157.41 621.40,157.13 622.20,157.39 623.00,157.24 623.80,156.97 624.60,156.37 625.40,156.26 626.20,156.19 627.00,156.19 627.80,156.59 628.60,156.05 629.40,155.71 630.20,155.09 631.00,155.32 631.80,155.10 632.60,154.85 633.40,154.96 634.20,154.73 635.00,154.62 635.80,154.21 636.60,154.19 637.40,154.02 638.20,154.11 639.00,153.95 639.80,153.90 640.60,153.53 641.40,153.19 642.20,152.87 643.00,152.58 643.80,152.85 644.60,152.85 645.40,152.82 646.20,152.81 647.00,153.10 647.80,152.90 648.60,153.25 649.40,153.11 650.20,153.52 651.00,153.35 651.80,153.36 652.60,153.24 653.40,153.54 654.20,153.30 655.00,153.49 655.80,153.23 656.60,153.32 657.40,153.42 658.20,153.41 659.00,154.38 659.80,154.29 660.60,154.28 661.40,153.94 662.20,154.29 663.00,154.12 663.80,154.19 664.60,154.33 665.40,154.89 666.20,155.22 667.00,155.59 667.80,155.72 668.60,155.64 669.40,155.23 670.20,155.20 671.00,155.25 671.80,155.49 672.60,155.58 673.40,155.32 674.20,155.80 675.00,156.31 675.80,156.42 676.60,156.13 677.40,155.52 678.20,155.92 679.00,155.91 679.80,155.97 680.60,155.57 681.40,155.45 682.20,155.39" fill="none" stroke="#9ad0e4" stroke-width="0.7" stroke-opacity="1.0" stroke-linejoin="round"/>
<polyline points="417.40,180.40 418.20,181.18 419.00,182.29 419.80,182.27 420.60,182.54 421.40,181.82 422.20,181.38 423.00,180.03 423.80,179.33 424.60,177.85 425.40,177.03 426.20,175.63 427.00,174.65 427.80,172.64 428.60,171.43 429.40,169.47 430.20,169.21 431.00,167.31 431.80,166.27 432.60,164.27 433.40,164.29 434.20,163.22 435.00,162.89 435.80,161.48 436.60,160.64 437.40,159.84 438.20,159.50 439.00,159.20 439.80,158.68 440.60,157.21 441.40,155.73 442.20,153.61 443.00,152.09 443.80,151.11 444.60,150.16 445.40,149.17 446.20,147.56 447.00,146.44 447.80,146.11 448.60,145.29 449.40,144.62 450.20,143.57 451.00,143.21 451.80,143.53 452.60,142.35 453.40,142.13 454.20,141.33 455.00,141.30 455.80,140.80 456.60,140.40 457.40,140.33 458.20,139.96 459.00,139.43 459.80,139.04 460.60,138.95 461.40,138.74 462.20,138.07 463.00,137.69 463.80,137.31 464.60,137.22 465.40,136.63 466.20,136.16 467.00,135.52 467.80,135.17 468.60,134.80 469.40,134.05 470.20,133.18 471.00,132.52 471.80,131.95 472.60,131.11 473.40,130.10 474.20,129.26 475.00,128.48 475.80,127.52 476.60,126.56 477.40,125.57 478.20,124.68 479.00,123.63 479.80,122.61 480.60,121.48 481.40,120.57 482.20,119.46 483.00,118.22 483.80,116.83 484.60,115.44 485.40,114.07 486.20,112.44 487.00,110.81 487.80,108.96 488.60,106.91 489.40,104.62 490.20,102.41 491.00,100.25 491.80,98.02 492.60,95.47 493.40,92.91 494.20,90.61 495.00,88.37 495.80,86.02 496.60,83.12 497.40,80.32 498.20,77.31 499.00,74.57 499.80,71.62 500.60,68.74 501.40,65.85 502.20,62.92 503.00,60.36 503.80,57.79 504.60,55.60 505.40,53.26 506.20,51.13 507.00,48.77 507.80,46.41 508.60,44.15 509.40,41.99 510.20,40.14 511.00,38.32 511.80,36.57 512.60,34.71 513.40,33.09 514.20,32.39 515.00,32.80 515.80,33.98 516.60,35.38 517.40,36.83 518.20,38.71 519.00,41.62 519.80,44.79 520.60,47.97 521.40,51.03 522.20,54.25 523.00,57.58 523.80,60.77 524.60,63.92 525.40,67.40 526.20,70.61 527.00,74.05 527.80,77.65 528.60,81.33 529.40,84.94 530.20,88.21 531.00,91.48 531.80,94.67 532.60,97.91 533.40,101.17 534.20,104.42 535.00,107.59 535.80,110.65 536.60,112.98 537.40,114.85 538.20,116.16 539.00,117.73 539.80,119.30 540.60,121.75 541.40,123.54 542.20,125.58 543.00,127.93 543.80,130.48 544.60,132.48 545.40,133.83 546.20,134.68 547.00,135.41 547.80,135.48 548.60,135.18 549.40,135.59 550.20,136.79 551.00,138.83 551.80,140.72 552.60,142.45 553.40,144.26 554.20,145.30 555.00,146.22 555.80,146.39 556.60,146.77 557.40,147.26 558.20,147.72 559.00,148.06 559.80,148.50 560.60,149.70 561.40,150.78 562.20,151.96 563.00,152.35 563.80,152.89 564.60,152.75 565.40,153.08 566.20,153.79 567.00,154.38 567.80,154.82 568.60,154.73 569.40,154.73 570.20,154.62 571.00,154.65 571.80,155.29 572.60,156.23 573.40,156.80 574.20,155.16 575.00,152.43 575.80,152.28 576.60,152.81 577.40,154.44 578.20,155.35 579.00,156.86 579.80,158.27 580.60,159.30 581.40,159.11 582.20,158.44 583.00,158.72 583.80,158.81 584.60,158.80 585.40,158.35 586.20,158.18 587.00,158.73 587.80,158.73 588.60,158.86 589.40,158.26 590.20,158.75 591.00,159.44 591.80,160.19 592.60,160.50 593.40,160.29 594.20,160.31 595.00,159.91 595.80,159.65 596.60,158.62 597.40,158.31 598.20,158.30 599.00,158.93 599.80,159.09 600.60,159.71 601.40,160.19 602.20,160.66 603.00,160.77 603.80,160.65 604.60,161.14 605.40,160.62 606.20,160.68 607.00,159.95 607.80,160.38 608.60,160.58 609.40,160.74 610.20,160.81 611.00,160.32 611.80,160.90 612.60,161.04 613.40,161.48 614.20,160.61 615.00,160.05 615.80,159.99 616.60,160.22 617.40,160.38 618.20,160.14 619.00,159.81 619.80,160.00 620.60,159.85 621.40,160.21 622.20,159.76 623.00,159.77 623.80,159.34 624.60,159.58 625.40,159.56 626.20,159.76 627.00,159.44 627.80,159.11 628.60,157.98 629.40,157.85 630.20,157.41 631.00,157.91 631.80,157.45 632.60,157.01 633.40,156.69 634.20,156.76 635.00,157.30 635.80,157.11 636.60,156.56 637.40,156.41 638.20,156.19 639.00,156.80 639.80,156.32 640.60,156.21 641.40,155.85 642.20,156.19 643.00,156.01 643.80,156.12 644.60,155.60 645.40,156.31 646.20,155.80 647.00,155.45 647.80,155.19 648.60,155.50 649.40,156.40 650.20,156.70 651.00,156.63 651.80,156.05 652.60,155.49 653.40,155.27 654.20,155.17 655.00,155.30 655.80,154.83 656.60,155.18 657.40,155.35 658.20,156.75 659.00,157.01 659.80,157.01 660.60,156.62 661.40,156.23 662.20,156.30 663.00,155.82 663.80,156.62 664.60,157.06 665.40,157.38 666.20,157.15 667.00,157.38 667.80,157.93 668.60,158.17 669.40,157.84 670.20,157.65 671.00,157.66 671.80,158.16 672.60,158.14 673.40,157.84 674.20,157.90 675.00,157.87 675.80,158.41 676.60,158.18 677.40,158.62 678.20,158.77 679.00,158.85 679.80,158.79 680.60,158.08 681.40,157.68 682.20,157.42" fill="none" stroke="#4a64c0" stroke-width="0.7" stroke-opacity="1.0" stroke-linejoin="round"/>
<polyline points="417.40,180.85 418.20,182.19 419.00,183.31 419.80,183.10 420.60,182.55 421.40,181.76 422.20,181.15 423.00,180.49 423.80,179.10 424.60,178.35 425.40,176.92 426.20,176.15 427.00,174.07 427.80,173.33 428.60,171.55 429.40,171.01 430.20,169.00 431.00,168.00 431.80,166.96 432.60,166.09 433.40,165.17 434.20,163.66 435.00,162.27 435.80,161.50 436.60,160.98 437.40,160.56 438.20,159.83 439.00,158.58 439.80,157.61 440.60,156.21 441.40,154.69 442.20,153.97 443.00,151.80 443.80,150.70 444.60,149.12 445.40,147.96 446.20,146.19 447.00,145.06 447.80,144.59 448.60,144.43 449.40,143.97 450.20,143.56 451.00,142.92 451.80,142.24 452.60,143.48 453.40,143.63 454.20,144.39 455.00,144.26 455.80,144.02 456.60,143.98 457.40,143.86 458.20,143.87 459.00,143.35 459.80,142.99 460.60,142.65 461.40,142.55 462.20,142.34 463.00,142.34 463.80,142.36 464.60,142.50 465.40,142.41 466.20,142.51 467.00,142.30 467.80,141.64 468.60,140.85 469.40,140.13 470.20,139.80 471.00,139.20 471.80,138.66 472.60,138.01 473.40,137.64 474.20,137.13 475.00,136.60 475.80,135.85 476.60,135.23 477.40,134.34 478.20,133.18 479.00,131.98 479.80,130.67 480.60,129.53 481.40,128.13 482.20,126.96 483.00,125.72 483.80,124.38 484.60,123.03 485.40,121.58 486.20,120.58 487.00,119.37 487.80,118.30 488.60,116.68 489.40,114.90 490.20,113.27 491.00,111.56 491.80,109.92 492.60,107.82 493.40,105.83 494.20,103.74 495.00,101.35 495.80,99.09 496.60,96.60 497.40,94.25 498.20,91.75 499.00,89.09 499.80,86.10 500.60,82.57 501.40,79.20 502.20,75.90 503.00,72.64 503.80,69.05 504.60,65.50 505.40,62.03 506.20,58.94 507.00,56.00 507.80,53.06 508.60,49.69 509.40,46.36 510.20,43.19 511.00,40.35 511.80,37.83 512.60,36.03 513.40,34.30 514.20,32.82 515.00,31.65 515.80,31.59 516.60,31.53 517.40,31.91 518.20,32.51 519.00,34.34 519.80,36.88 520.60,39.78 521.40,42.62 522.20,45.33 523.00,48.42 523.80,51.90 524.60,55.46 525.40,59.21 526.20,62.66 527.00,66.06 527.80,69.19 528.60,72.40 529.40,75.70 530.20,79.13 531.00,82.47 531.80,85.80 532.60,88.94 533.40,92.22 534.20,95.35 535.00,98.58 535.80,101.69 536.60,104.90 537.40,107.87 538.20,110.63 539.00,113.33 539.80,115.86 540.60,118.52 541.40,121.18 542.20,123.68 543.00,126.13 543.80,128.65 544.60,130.57 545.40,131.85 546.20,132.10 547.00,132.30 547.80,132.43 548.60,132.84 549.40,133.32 550.20,134.55 551.00,136.15 551.80,137.97 552.60,139.62 553.40,141.70 554.20,142.91 555.00,143.81 555.80,143.84 556.60,144.21 557.40,144.21 558.20,144.76 559.00,145.84 559.80,146.28 560.60,147.38 561.40,147.38 562.20,148.35 563.00,148.86 563.80,149.94 564.60,150.64 565.40,150.46 566.20,150.67 567.00,150.51 567.80,151.67 568.60,151.62 569.40,152.01 570.20,151.20 571.00,151.31 571.80,151.42 572.60,152.72 573.40,153.25 574.20,152.21 575.00,149.36 575.80,149.35 576.60,150.32 577.40,151.44 578.20,152.49 579.00,153.60 579.80,154.62 580.60,155.55 581.40,155.72 582.20,155.72 583.00,155.93 583.80,155.38 584.60,155.79 585.40,155.75 586.20,155.68 587.00,155.17 587.80,154.64 588.60,154.97 589.40,155.63 590.20,155.89 591.00,156.52 591.80,156.34 592.60,156.85 593.40,156.43 594.20,157.36 595.00,157.30 595.80,157.27 596.60,156.04 597.40,156.06 598.20,155.56 599.00,155.98 599.80,156.61 600.60,157.45 601.40,157.87 602.20,157.87 603.00,158.07 603.80,158.26 604.60,158.41 605.40,158.74 606.20,158.90 607.00,158.63 607.80,158.71 608.60,158.67 609.40,159.14 610.20,159.26 611.00,159.18 611.80,158.19 612.60,158.16 613.40,158.38 614.20,158.71 615.00,157.98 615.80,157.45 616.60,157.84 617.40,158.00 618.20,158.09 619.00,157.83 619.80,158.32 620.60,158.34 621.40,158.17 622.20,157.63 623.00,157.94 623.80,158.09 624.60,158.04 625.40,157.10 626.20,156.44 627.00,156.40 627.80,156.36 628.60,156.56 629.40,156.29 630.20,156.33 631.00,156.07 631.80,155.93 632.60,155.47 633.40,155.07 634.20,155.37 635.00,155.12 635.80,154.91 636.60,154.43 637.40,154.53 638.20,154.30 639.00,153.56 639.80,153.61 640.60,153.96 641.40,154.55 642.20,154.36 643.00,154.32 643.80,153.69 644.60,153.69 645.40,153.23 646.20,153.51 647.00,153.63 647.80,154.05 648.60,153.74 649.40,153.86 650.20,153.46 651.00,153.45 651.80,153.08 652.60,152.84 653.40,153.12 654.20,153.29 655.00,153.68 655.80,153.90 656.60,153.85 657.40,154.01 658.20,153.63 659.00,153.84 659.80,153.74 660.60,154.10 661.40,154.16 662.20,154.52 663.00,154.32 663.80,154.05 664.60,154.03 665.40,154.66 666.20,155.25 667.00,155.65 667.80,155.97 668.60,156.11 669.40,156.00 670.20,155.53 671.00,155.29 671.80,155.30 672.60,155.75 673.40,156.18 674.20,156.47 675.00,156.56 675.80,156.86 676.60,157.09 677.40,157.33 678.20,157.30 679.00,157.07 679.80,156.58 680.60,156.36 681.40,156.27 682.20,156.13" fill="none" stroke="#262626" stroke-width="0.7" stroke-opacity="1.0" stroke-linejoin="round"/>
<line x1="61.80" y1="407.70" x2="68.80" y2="407.70" stroke="#000" stroke-width="1.6"/>
<line x1="335.10" y1="407.70" x2="328.10" y2="407.70" stroke="#000" stroke-width="1.6"/>
<line x1="61.80" y1="377.44" x2="68.80" y2="377.44" stroke="#000" stroke-width="1.6"/>
<line x1="335.10" y1="377.44" x2="328.10" y2="377.44" stroke="#000" stroke-width="1.6"/>
<line x1="61.80" y1="347.18" x2="68.80" y2="347.18" stroke="#000" stroke-width="1.6"/>
<line x1="335.10" y1="347.18" x2="328.10" y2="347.18" stroke="#000" stroke-width="1.6"/>
<line x1="61.80" y1="316.92" x2="68.80" y2="316.92" stroke="#000" stroke-width="1.6"/>
<line x1="335.10" y1="316.92" x2="328.10" y2="316.92" stroke="#000" stroke-width="1.6"/>
<line x1="61.80" y1="286.66" x2="68.80" y2="286.66" stroke="#000" stroke-width="1.6"/>
<line x1="335.10" y1="286.66" x2="328.10" y2="286.66" stroke="#000" stroke-width="1.6"/>
<line x1="107.40" y1="437.96" x2="107.40" y2="430.96" stroke="#000" stroke-width="1.6"/>
<line x1="107.40" y1="256.40" x2="107.40" y2="263.40" stroke="#000" stroke-width="1.6"/>
<line x1="153.00" y1="437.96" x2="153.00" y2="430.96" stroke="#000" stroke-width="1.6"/>
<line x1="153.00" y1="256.40" x2="153.00" y2="263.40" stroke="#000" stroke-width="1.6"/>
<line x1="198.60" y1="437.96" x2="198.60" y2="430.96" stroke="#000" stroke-width="1.6"/>
<line x1="198.60" y1="256.40" x2="198.60" y2="263.40" stroke="#000" stroke-width="1.6"/>
<line x1="244.20" y1="437.96" x2="244.20" y2="430.96" stroke="#000" stroke-width="1.6"/>
<line x1="244.20" y1="256.40" x2="244.20" y2="263.40" stroke="#000" stroke-width="1.6"/>
<line x1="289.80" y1="437.96" x2="289.80" y2="430.96" stroke="#000" stroke-width="1.6"/>
<line x1="289.80" y1="256.40" x2="289.80" y2="263.40" stroke="#000" stroke-width="1.6"/>
<text transform="translate(59.50 261.40)" font-size="14.7" text-anchor="end" font-weight="normal" font-style="normal">0.10</text>
<text transform="translate(59.50 291.66)" font-size="14.7" text-anchor="end" font-weight="normal" font-style="normal">0.08</text>
<text transform="translate(59.50 321.92)" font-size="14.7" text-anchor="end" font-weight="normal" font-style="normal">0.06</text>
<text transform="translate(59.50 352.18)" font-size="14.7" text-anchor="end" font-weight="normal" font-style="normal">0.04</text>
<text transform="translate(59.50 382.44)" font-size="14.7" text-anchor="end" font-weight="normal" font-style="normal">0.02</text>
<text transform="translate(59.50 412.70)" font-size="14.7" text-anchor="end" font-weight="normal" font-style="normal">0.00</text>
<text transform="translate(59.50 442.96)" font-size="14.7" text-anchor="end" font-weight="normal" font-style="normal">-0.02</text>
<text transform="translate(61.80 454.20)" font-size="14.7" text-anchor="middle" font-weight="normal" font-style="normal">0</text>
<text transform="translate(107.40 454.20)" font-size="14.7" text-anchor="middle" font-weight="normal" font-style="normal">5</text>
<text transform="translate(153.00 454.20)" font-size="14.7" text-anchor="middle" font-weight="normal" font-style="normal">10</text>
<text transform="translate(198.60 454.20)" font-size="14.7" text-anchor="middle" font-weight="normal" font-style="normal">15</text>
<text transform="translate(244.20 454.20)" font-size="14.7" text-anchor="middle" font-weight="normal" font-style="normal">20</text>
<text transform="translate(289.80 454.20)" font-size="14.7" text-anchor="middle" font-weight="normal" font-style="normal">25</text>
<text transform="translate(335.40 454.20)" font-size="14.7" text-anchor="middle" font-weight="normal" font-style="normal">30</text>
<text transform="translate(199.00 481.00)" font-size="17" text-anchor="middle" font-weight="normal" font-style="normal">Time s</text>
<text transform="translate(75.20 285.50)" font-size="24" text-anchor="start" font-weight="bold" font-style="normal" style="fill:#1e1e1e">C</text>
<text transform="translate(14.70 386.80) rotate(-90)" font-size="16.5" text-anchor="start" font-weight="normal" font-style="normal">ΔA<tspan font-size="13" dy="6">425</tspan><tspan dy="-6">-A</tspan><tspan font-size="13" dy="6">390</tspan></text>
<line x1="355.20" y1="313.50" x2="374.90" y2="313.50" stroke="#8d9ad0" stroke-width="0.9"/>
<text transform="translate(384.80 319.30)" font-size="15" text-anchor="start" font-weight="normal" font-style="normal">4 µM</text>
<line x1="355.20" y1="340.30" x2="374.90" y2="340.30" stroke="#b4dde9" stroke-width="0.9"/>
<text transform="translate(384.80 345.30)" font-size="15" text-anchor="start" font-weight="normal" font-style="normal">7.5 µM</text>
<line x1="355.20" y1="365.30" x2="374.90" y2="365.30" stroke="#f2c79a" stroke-width="0.9"/>
<text transform="translate(384.80 370.20)" font-size="15" text-anchor="start" font-weight="normal" font-style="normal">15 µM</text>
<path d="M62.10 403.46V414.46M63.22 401.16V414.55M64.20 401.24V406.50M64.87 400.23V405.27M65.87 396.91V407.58M66.71 397.03V403.90M67.83 397.10V403.11M68.77 395.89V406.19M69.66 394.47V399.46M70.44 392.83V400.48M71.10 392.40V400.16M72.19 391.06V402.57M73.30 389.70V398.98M74.23 391.90V397.53M74.98 391.94V397.46M75.73 389.36V397.23M76.38 390.35V396.59M77.38 390.71V398.89M78.11 389.48V400.98M78.90 389.02V397.53M79.57 390.44V400.37M80.38 387.78V396.94M81.47 389.67V397.22M82.39 386.70V393.63M83.22 388.28V397.67M83.93 387.83V398.33M84.95 388.96V396.28M85.74 388.27V395.58M86.88 389.11V399.83M87.53 388.97V394.19M88.32 385.44V398.87M89.45 387.86V392.57M90.42 384.97V393.17M91.49 388.69V397.78M92.39 384.77V398.79M93.05 387.11V394.00M93.91 388.47V394.83M94.76 388.48V395.64M95.88 388.38V399.11M96.77 388.02V399.26M97.66 387.15V394.77M98.76 388.14V393.49M99.55 388.23V398.21M100.44 386.26V398.49M101.34 387.65V395.81M102.24 387.55V393.54M103.06 385.43V393.02M104.23 387.70V393.79M104.92 387.13V394.52M105.92 384.34V393.57M106.99 387.40V394.74M107.69 384.32V394.48M108.70 388.04V396.89M109.45 386.78V396.70M110.17 386.42V397.90M110.89 386.69V393.00M111.60 386.57V395.03M112.58 384.47V396.89M113.39 386.56V396.64M114.47 385.53V395.34M115.17 384.37V393.67M116.02 384.25V393.10M117.14 387.51V392.19M118.05 384.80V394.54M119.14 386.89V397.62M119.83 387.30V392.42M120.86 386.55V396.41M121.62 385.13V398.93M122.29 387.15V397.99M123.38 384.25V393.16M124.31 387.76V394.68M125.25 387.33V394.61M126.08 387.75V391.95M127.13 387.82V398.82M128.25 383.40V397.30M128.88 387.66V393.79M129.61 387.75V398.27M130.73 384.84V393.28M131.82 384.50V393.80M132.52 387.58V394.44M133.60 387.68V394.58M134.42 384.00V392.50M135.40 387.00V396.19M136.48 384.42V397.67M137.26 387.15V392.24M138.03 387.56V397.19M138.69 387.39V397.23M139.73 383.39V394.18M140.39 384.49V393.44M141.43 387.67V391.54M142.39 385.22V395.49M143.30 385.69V392.25M143.97 386.82V395.37M144.73 387.36V394.60M145.58 387.09V398.20M146.72 387.60V394.83M147.48 386.84V391.44M148.16 387.60V392.16M149.14 387.53V397.85M150.20 387.05V396.39M151.34 387.44V395.39M152.23 386.89V393.34M152.90 385.33V392.66M153.76 383.57V393.78M154.56 383.53V395.53M155.50 387.14V395.96M156.33 385.84V394.12M157.01 383.88V396.32M158.16 386.85V393.24M158.86 386.84V393.56M159.59 386.97V393.32M160.68 386.26V397.25M161.34 387.18V398.24M161.99 387.43V394.97M162.78 387.15V395.65M163.74 387.16V395.12M164.62 384.02V391.58M165.37 385.65V391.31M166.46 383.17V393.51M167.51 386.95V398.15M168.25 387.43V391.54M169.13 387.40V398.37M170.10 385.59V395.71M170.96 383.70V396.35M171.82 386.80V392.08M172.62 386.54V391.59M173.75 386.86V395.03M174.41 385.63V395.82M175.09 383.04V392.19M175.86 384.60V393.48M176.96 386.90V393.30M177.97 383.80V397.57M178.75 385.70V394.01M179.75 386.90V397.22M180.76 387.04V393.27M181.57 383.30V394.33M182.54 383.28V393.87M183.68 386.66V390.98M184.36 384.78V393.74M185.44 385.63V396.01M186.26 385.34V396.10M187.10 385.81V397.18M188.23 386.40V391.35M189.31 385.99V398.10M190.35 386.31V397.20M191.28 384.59V397.45M192.22 383.08V393.79M193.06 384.99V393.84M194.07 385.55V396.36M195.15 385.36V397.64M196.20 383.65V390.92M196.84 384.99V393.26M197.94 386.15V396.33M198.70 385.00V397.50M199.80 386.23V394.35M200.72 386.31V394.36M201.87 383.45V393.08M202.87 382.97V393.42M203.95 383.96V397.35M204.63 383.13V398.05M205.39 384.92V391.36M206.34 384.48V396.27M207.44 386.43V391.53M208.51 387.04V392.40M209.27 384.05V393.96M210.35 384.68V396.96M211.40 383.36V392.70M212.23 384.88V394.99M213.28 383.81V392.90M213.97 384.22V395.76M214.75 386.95V390.77M215.51 386.42V392.14M216.17 386.72V393.21M216.85 386.62V393.86M217.94 383.35V393.60M218.64 386.41V395.62M219.49 385.12V396.08M220.47 383.41V391.18M221.26 386.91V394.44M222.23 386.42V390.94M223.11 386.66V391.98M223.94 382.80V393.21M224.95 385.97V393.54M225.66 386.59V396.27M226.52 386.28V397.89M227.63 386.34V393.73M228.56 386.61V393.67M229.35 383.65V391.17M230.51 386.40V392.93M231.18 382.95V396.65M231.85 385.22V393.37M232.81 386.04V397.60M233.55 383.54V392.43M234.53 385.65V394.36M235.45 384.68V390.91M236.11 382.50V392.29M236.93 386.33V395.23M238.09 385.73V392.79M238.91 386.76V391.04M239.57 386.02V397.75M240.27 385.03V391.91M240.92 383.37V391.31M241.63 383.49V392.17M242.36 382.64V391.80M243.44 386.05V394.57M244.24 385.92V397.31M245.36 386.43V395.74M246.07 386.05V390.84M247.05 384.00V395.89M248.09 385.67V391.61M248.73 385.47V397.28M249.60 384.60V397.15M250.69 383.88V394.70M251.45 383.82V393.39M252.46 386.24V397.30M253.18 383.55V396.92M253.89 383.06V395.06M254.85 386.12V392.68M255.60 385.40V395.07M256.63 384.03V392.81M257.44 383.68V397.50M258.19 385.50V392.26M259.35 386.57V396.87M260.39 385.80V395.27M261.22 384.38V393.35M262.34 385.26V396.24M263.28 385.62V397.39M264.02 382.68V397.50M265.11 384.48V394.79M266.24 385.34V396.30M267.29 382.98V393.41M268.27 386.40V390.64M268.96 383.74V392.75M270.08 386.40V391.37M271.16 385.35V391.72M272.21 386.02V397.36M272.99 382.93V393.65M274.13 385.80V396.98M274.92 385.19V394.78M275.85 384.05V395.25M276.62 386.42V395.45M277.58 384.61V393.73M278.71 385.75V396.84M279.43 383.88V397.05M280.14 383.42V392.03M280.81 385.21V395.22M281.59 382.23V389.99M282.36 385.56V392.75M283.15 386.35V391.53M283.93 383.97V392.78M284.95 385.12V392.50M285.66 385.91V396.70M286.54 385.62V391.56M287.64 383.75V395.13M288.71 385.84V395.39M289.37 383.96V392.32M290.36 385.87V392.54M291.35 382.21V392.44M292.07 386.11V394.91M293.19 386.26V392.45M293.91 382.08V390.85M294.58 383.30V397.34M295.62 386.10V392.90M296.53 382.44V395.48M297.20 384.96V395.67M298.12 383.87V397.07M299.28 382.82V394.10M300.07 385.96V391.06M301.05 383.21V396.23M302.17 385.57V392.29M302.91 384.48V396.87M303.95 384.97V390.96M305.03 382.38V395.52M305.82 385.15V394.12M306.95 385.67V392.89M307.61 386.13V391.56M308.68 383.72V393.30M309.53 385.58V395.46M310.42 386.04V394.41M311.59 386.03V397.17M312.27 385.40V397.01M313.43 385.78V395.08M314.39 385.04V395.55M315.36 385.64V393.34M316.37 383.95V393.72" stroke="#3444a6" stroke-width="0.7" stroke-opacity="0.9" fill="none"/>
<polyline points="61.98,405.40 63.08,407.65 64.17,401.52 65.27,404.67 66.36,398.08 67.45,402.16 68.55,395.22 69.64,399.41 70.74,393.91 71.83,398.06 72.93,392.32 74.02,397.24 75.12,391.17 76.21,395.72 77.30,390.25 78.40,394.98 79.49,389.67 80.59,394.18 81.68,389.14 82.78,394.06 83.87,388.66 84.96,393.78 86.06,388.40 87.15,393.65 88.25,388.55 89.34,393.44 90.44,387.91 91.53,393.20 92.63,387.95 93.72,392.52 94.81,387.35 95.91,393.07 97.00,387.20 98.10,392.65 99.19,387.20 100.29,392.94 101.38,387.43 102.48,392.90 103.57,387.13 104.66,392.13 105.76,387.69 106.85,392.36 107.95,387.29 109.04,392.54 110.14,387.23 111.23,392.70 112.32,386.98 113.42,391.98 114.51,387.36 115.61,392.65 116.70,386.96 117.80,391.84 118.89,387.05 119.99,391.91 121.08,387.13 122.17,392.67 123.27,387.50 124.36,392.49 125.46,387.10 126.55,392.61 127.65,386.74 128.74,391.76 129.84,386.92 130.93,392.46 132.02,387.22 133.12,392.30 134.21,387.22 135.31,391.83 136.40,387.13 137.50,391.88 138.59,386.54 139.68,391.81 140.78,387.01 141.87,392.02 142.97,386.75 144.06,392.43 145.16,386.79 146.25,392.31 147.35,387.21 148.44,392.11 149.53,387.15 150.63,392.28 151.72,386.75 152.82,391.60 153.91,386.50 155.01,391.93 156.10,386.81 157.20,391.51 158.29,386.41 159.38,391.88 160.48,386.42 161.57,391.46 162.67,386.57 163.76,391.71 164.86,386.68 165.95,391.91 167.04,386.40 168.14,392.16 169.23,386.97 170.33,392.08 171.42,387.00 172.52,391.30 173.61,386.81 174.71,391.53 175.80,386.37 176.89,391.75 177.99,386.69 179.08,391.94 180.18,386.18 181.27,391.79 182.37,386.41 183.46,391.96 184.56,386.71 185.65,392.06 186.74,386.80 187.84,391.19 188.93,386.20 190.03,391.28 191.12,386.61 192.22,391.57 193.31,386.80 194.40,391.47 195.50,386.56 196.59,391.14 197.69,386.31 198.78,391.45 199.88,386.69 200.97,391.73 202.07,386.45 203.16,391.03 204.25,386.00 205.35,391.35 206.44,386.69 207.54,391.22 208.63,386.52 209.73,390.98 210.82,386.43 211.92,391.07 213.01,386.52 214.10,391.51 215.20,386.55 216.29,390.90 217.39,386.51 218.48,391.13 219.58,386.50 220.67,391.38 221.76,385.84 222.86,391.57 223.95,386.19 225.05,391.51 226.14,385.88 227.24,391.35 228.33,385.85 229.43,391.10 230.52,385.88 231.61,391.21 232.71,385.86 233.80,391.38 234.90,386.45 235.99,391.45 237.09,386.46 238.18,391.06 239.28,385.94 240.37,391.40 241.46,386.40 242.56,391.24 243.65,386.12 244.75,390.65 245.84,386.11 246.94,391.17 248.03,386.31 249.12,391.34 250.22,386.33 251.31,390.77 252.41,386.05 253.50,390.59 254.60,385.49 255.69,391.38 256.79,385.49 257.88,390.67 258.97,385.53 260.07,390.78 261.16,386.00 262.26,391.07 263.35,386.17 264.45,390.44 265.54,385.38 266.64,390.73 267.73,385.49 268.82,390.78 269.92,386.10 271.01,390.80 272.11,386.01 273.20,390.42 274.30,386.12 275.39,390.69 276.48,385.89 277.58,390.61 278.67,385.23 279.77,391.04 280.86,385.44 281.96,390.49 283.05,385.38 284.15,390.88 285.24,385.56 286.33,390.44 287.43,385.83 288.52,390.59 289.62,385.75 290.71,390.98 291.81,385.56 292.90,390.78 294.00,385.15 295.09,390.71 296.18,385.79 297.28,390.41 298.37,385.09 299.47,390.15 300.56,385.70 301.66,390.64 302.75,385.11 303.84,390.80 304.94,385.20 306.03,390.68 307.13,385.50 308.22,390.08 309.32,385.24 310.41,390.07 311.51,385.08 312.60,390.10 313.69,385.75 314.79,390.86 315.88,385.60 316.98,390.47" fill="none" stroke="#3444a6" stroke-width="0.7999999999999999" stroke-opacity="1.0" stroke-linejoin="round"/>
<path d="M62.10 397.48V408.96M62.74 388.13V401.01M63.53 388.14V392.50M64.19 384.35V395.26M65.31 383.90V394.60M66.04 384.94V396.77M67.19 383.09V394.33M68.21 382.79V388.95M69.24 378.23V393.92M70.07 381.70V388.23M70.73 376.78V387.57M71.82 379.81V391.57M72.71 376.21V388.15M73.76 378.68V383.49M74.58 374.47V389.02M75.60 375.38V381.81M76.73 374.22V385.23M77.81 375.32V384.49M78.81 372.20V379.86M79.83 370.56V383.18M80.55 369.98V378.75M81.31 369.92V381.91M82.12 369.73V381.84M82.81 372.04V382.63M83.88 371.75V379.81M84.90 370.47V375.77M85.75 366.68V380.28M86.50 366.87V379.39M87.28 369.31V375.27M88.13 368.52V375.62M89.23 365.91V376.59M90.38 365.83V379.44M91.46 365.51V376.96M92.51 364.29V377.80M93.32 365.89V372.71M94.45 362.43V373.65M95.30 365.69V377.27M96.29 361.19V374.25M97.20 362.21V375.77M98.28 363.76V372.46M99.42 362.60V374.21M100.34 360.39V368.34M100.97 363.41V370.85M101.80 358.98V374.74M102.50 359.55V370.82M103.58 361.61V372.40M104.22 360.96V368.87M104.98 361.37V369.25M105.88 360.11V371.30M106.96 357.12V370.45M107.72 359.23V368.47M108.48 360.10V366.68M109.40 360.55V368.76M110.25 360.36V366.51M111.41 358.16V364.61M112.35 357.22V364.88M113.20 359.18V367.71M114.27 358.83V364.42M114.98 357.05V363.71M115.89 355.68V368.72M116.88 358.65V365.97M117.65 356.92V363.70M118.35 354.17V369.00M119.03 354.84V362.74M119.84 353.54V369.13M120.73 355.25V364.76M121.81 356.87V363.21M122.52 355.29V365.70M123.64 357.01V367.34M124.78 354.19V361.95M125.49 356.79V363.46M126.53 356.49V364.14M127.19 354.16V361.40M128.24 354.34V361.91M129.25 355.40V364.24M130.18 355.53V363.29M131.24 352.27V366.28M132.17 351.99V360.75M133.34 355.31V366.17M134.39 354.11V365.11M135.54 354.60V363.80M136.17 352.37V359.25M137.16 354.49V361.61M138.26 353.59V365.62M139.15 353.79V365.19M139.86 351.99V365.09M141.00 351.96V359.39M141.90 352.91V359.98M142.70 353.04V357.76M143.73 353.19V361.57M144.56 350.78V361.47M145.45 349.87V361.25M146.57 350.77V363.33M147.66 349.90V359.03M148.56 352.25V361.85M149.53 348.90V356.88M150.23 349.81V361.62M150.90 351.92V358.45M151.72 351.76V356.62M152.46 351.68V356.87M153.10 350.67V361.28M154.09 349.42V359.02M154.82 351.28V356.79M155.96 347.91V359.50M156.92 348.19V361.25M157.68 347.73V359.83M158.46 350.16V356.14M159.39 346.37V360.65M160.11 350.39V356.74M160.83 350.25V360.01M161.63 348.53V356.78M162.79 348.23V355.31M163.84 349.42V357.53M164.62 348.50V356.32M165.43 349.60V361.12M166.17 349.14V356.90M166.86 349.23V356.79M167.81 347.88V356.38M168.80 346.60V355.48M169.56 347.20V356.49M170.64 349.19V357.34M171.46 348.72V359.69M172.21 345.94V359.50M173.36 348.74V354.13M174.03 348.08V359.69M175.01 348.47V353.57M176.05 346.47V352.68M176.99 348.18V354.78M177.68 344.01V355.96M178.64 348.04V355.29M179.62 345.51V359.22M180.38 347.83V355.39M181.18 344.97V355.11M182.01 346.70V356.50M182.83 348.15V357.74M183.53 344.61V354.04M184.29 346.41V358.95M185.13 346.63V355.22M185.82 347.37V358.95M186.96 347.43V358.91M187.60 345.25V352.17M188.46 346.77V355.20M189.59 346.96V352.02M190.28 344.94V352.82M190.94 347.41V359.15M191.81 347.49V356.72M192.65 345.92V359.22M193.66 345.97V359.19M194.56 346.32V358.04M195.71 344.88V354.36M196.55 347.50V353.38M197.60 346.03V357.97M198.60 345.61V357.55M199.49 345.04V355.14M200.31 344.43V351.98M201.47 343.10V357.63M202.35 346.04V354.39M203.23 346.86V357.33M204.34 345.74V357.70M205.13 343.67V358.58M206.12 342.93V356.69M207.12 345.78V351.66M207.82 343.79V352.56M208.82 346.84V356.83M209.97 344.97V351.42M210.99 345.65V357.60M211.71 346.41V357.98M212.79 343.11V354.96M213.78 342.92V355.98M214.46 346.70V351.03M215.15 346.90V353.88M216.11 343.35V354.03M216.83 343.01V357.83M217.99 346.83V355.36M218.96 345.17V352.31M220.08 345.13V351.15M220.90 344.07V352.38M221.95 346.39V354.08M222.74 346.57V357.45M223.55 343.87V357.49M224.33 346.71V354.73M225.09 343.06V352.01M226.11 346.66V352.78M226.85 343.17V355.23M227.83 346.56V353.03M228.95 344.56V356.38M229.85 346.25V357.54M230.62 346.33V355.54M231.30 343.65V356.00M232.13 345.01V354.30M232.80 346.47V353.28M233.44 346.24V353.36M234.41 344.97V351.91M235.45 343.40V355.56M236.45 346.00V356.86M237.39 346.20V355.69M238.36 344.64V354.08M239.41 343.73V354.95M240.07 346.01V357.87M240.92 344.27V351.50M241.86 344.39V356.22M243.01 345.12V352.83M243.73 345.62V353.80M244.88 344.82V355.50M245.90 346.30V352.13M246.83 346.21V351.47M247.86 343.82V351.33M248.56 342.75V353.80M249.36 343.48V355.23M250.52 345.96V355.92M251.40 345.56V353.86M252.04 345.85V350.90M253.05 343.37V351.87M253.84 342.94V352.91M254.66 341.77V354.05M255.58 343.80V350.23M256.43 342.72V354.77M257.54 345.06V353.40M258.29 345.41V350.48M259.03 345.43V353.05M259.88 342.71V355.56M260.81 343.30V353.19M261.60 344.06V354.37M262.75 342.26V350.09M263.72 345.37V354.21M264.81 342.88V350.39M265.67 345.05V354.41M266.69 342.57V352.09M267.64 344.92V356.34M268.78 345.22V353.55M269.79 344.76V349.52M270.42 342.58V349.34M271.26 341.99V349.60M272.27 343.91V352.09M273.17 344.20V355.59M274.16 344.01V349.99M275.06 340.47V355.73M275.73 344.07V352.54M276.58 344.76V350.38M277.49 342.19V354.31M278.49 342.42V348.96M279.24 344.00V350.79M280.08 343.71V351.38M280.71 341.15V355.98M281.67 344.12V352.14M282.80 342.65V353.94M283.80 340.23V353.58M284.49 343.05V355.56M285.19 344.49V348.99M285.86 344.25V354.36M286.81 341.73V352.72M287.63 341.36V349.78M288.46 343.29V353.58M289.50 342.54V352.99M290.28 342.37V354.72M291.15 341.43V352.17M292.06 342.21V349.37M292.80 343.94V352.31M293.79 341.59V349.82M294.60 343.93V353.12M295.46 343.54V349.87M296.60 342.66V355.57M297.41 343.64V353.47M298.53 343.73V354.52M299.48 340.11V355.12M300.34 339.82V349.34M301.21 342.64V349.79M302.10 340.98V348.73M302.99 342.19V349.35M303.96 343.26V352.12M304.90 340.89V354.81M306.03 342.18V349.72M306.79 340.58V353.42M307.85 340.24V351.92M308.97 341.29V352.41M310.05 341.32V353.43M311.18 342.57V353.30M311.97 342.16V354.21M313.13 339.45V353.34M314.22 339.88V352.23M314.98 343.57V353.36M316.02 340.85V352.00" stroke="#6fbdd3" stroke-width="0.7" stroke-opacity="0.9" fill="none"/>
<polyline points="61.98,399.04 63.08,394.16 64.17,386.23 65.27,390.75 66.36,384.17 67.45,389.11 68.55,382.15 69.64,386.80 70.74,380.72 71.83,385.37 72.93,378.95 74.02,383.78 75.12,377.19 76.21,382.12 77.30,375.42 78.40,380.69 79.49,374.04 80.59,378.47 81.68,372.15 82.78,377.70 83.87,371.13 84.96,376.08 86.06,369.53 87.15,374.66 88.25,368.60 89.34,373.76 90.44,367.55 91.53,372.22 92.63,365.85 93.72,371.14 94.81,364.74 95.91,370.88 97.00,364.33 98.10,369.96 99.19,363.80 100.29,368.76 101.38,362.64 102.48,367.66 103.57,361.27 104.66,366.59 105.76,360.54 106.85,365.89 107.95,360.01 109.04,365.42 110.14,359.52 111.23,365.46 112.32,358.64 113.42,364.03 114.51,358.58 115.61,363.88 116.70,357.63 117.80,362.87 118.89,356.98 119.99,363.24 121.08,356.42 122.17,362.14 123.27,356.74 124.36,362.35 125.46,356.02 126.55,361.36 127.65,356.14 128.74,360.96 129.84,355.11 130.93,361.07 132.02,354.95 133.12,360.75 134.21,354.28 135.31,359.85 136.40,353.92 137.50,359.26 138.59,353.50 139.68,359.24 140.78,352.97 141.87,358.20 142.97,352.55 144.06,358.49 145.16,351.94 146.25,357.26 147.35,351.77 148.44,357.24 149.53,351.81 150.63,357.38 151.72,350.53 152.82,356.15 153.91,350.55 155.01,356.03 156.10,350.57 157.20,355.66 158.29,350.41 159.38,355.77 160.48,349.78 161.57,355.48 162.67,349.02 163.76,355.05 164.86,349.22 165.95,354.33 167.04,348.63 168.14,354.60 169.23,348.23 170.33,353.79 171.42,348.72 172.52,354.30 173.61,347.90 174.71,353.25 175.80,347.55 176.89,352.98 177.99,347.45 179.08,353.35 180.18,347.23 181.27,352.75 182.37,346.91 183.46,353.49 184.56,346.71 185.65,353.20 186.74,347.28 187.84,353.31 188.93,346.87 190.03,352.94 191.12,346.72 192.22,352.32 193.31,346.43 194.40,352.67 195.50,346.98 196.59,352.31 197.69,346.97 198.78,352.28 199.88,346.03 200.97,352.15 202.07,346.56 203.16,352.50 204.25,346.80 205.35,351.73 206.44,346.06 207.54,351.68 208.63,346.13 209.73,352.31 210.82,346.11 211.92,351.50 213.01,346.42 214.10,351.91 215.20,345.60 216.29,351.97 217.39,345.81 218.48,351.86 219.58,346.14 220.67,351.82 221.76,346.41 222.86,351.58 223.95,345.55 225.05,351.32 226.14,345.67 227.24,351.81 228.33,346.13 229.43,351.91 230.52,346.00 231.61,351.97 232.71,345.86 233.80,351.58 234.90,345.21 235.99,351.76 237.09,345.65 238.18,351.09 239.28,345.49 240.37,351.46 241.46,346.02 242.56,351.22 243.65,345.12 244.75,351.32 245.84,345.78 246.94,351.33 248.03,345.40 249.12,351.50 250.22,345.26 251.31,350.49 252.41,345.49 253.50,350.54 254.60,344.58 255.69,350.62 256.79,345.09 257.88,351.15 258.97,345.13 260.07,350.69 261.16,344.28 262.26,350.88 263.35,344.98 264.45,350.33 265.54,344.79 266.64,350.47 267.73,344.69 268.82,349.84 269.92,344.57 271.01,349.69 272.11,344.02 273.20,349.75 274.30,344.25 275.39,349.65 276.48,344.17 277.58,349.59 278.67,344.11 279.77,349.90 280.86,344.20 281.96,349.79 283.05,343.93 284.15,349.09 285.24,344.07 286.33,349.82 287.43,344.05 288.52,349.09 289.62,343.12 290.71,348.80 291.81,343.70 292.90,348.90 294.00,342.97 295.09,348.66 296.18,342.77 297.28,348.57 298.37,343.07 299.47,349.15 300.56,342.99 301.66,348.79 302.75,343.02 303.84,348.44 304.94,342.37 306.03,348.51 307.13,342.64 308.22,348.61 309.32,342.27 310.41,348.26 311.51,343.09 312.60,348.92 313.69,342.72 314.79,348.65 315.88,342.60 316.98,348.79" fill="none" stroke="#6fbdd3" stroke-width="0.7999999999999999" stroke-opacity="1.0" stroke-linejoin="round"/>
<path d="M62.10 398.01V410.87M62.73 392.36V400.60M63.83 387.85V397.83M64.80 382.34V392.19M65.74 377.90V388.75M66.69 373.19V385.68M67.43 371.87V382.96M68.15 366.88V376.17M69.22 366.47V376.42M70.18 364.50V373.71M71.16 363.50V374.65M72.23 361.50V368.01M73.08 357.59V368.74M73.88 356.45V365.33M74.89 355.14V363.28M75.83 354.83V368.14M76.62 354.50V366.91M77.32 351.16V362.06M78.13 349.52V361.28M78.90 352.75V362.54M79.87 351.56V360.04M80.65 347.78V358.23M81.62 346.24V356.37M82.76 347.52V357.98M83.54 345.64V357.77M84.49 343.64V355.05M85.13 342.67V355.10M86.09 343.65V350.48M86.87 344.78V353.98M87.96 341.53V354.10M88.77 343.08V350.53M89.50 341.80V348.71M90.22 339.43V350.64M91.30 336.68V347.29M92.43 337.25V348.70M93.59 337.80V344.10M94.29 338.13V348.26M95.22 335.71V342.85M95.99 335.86V346.76M96.85 336.62V343.74M97.89 333.66V342.59M99.03 335.51V341.74M99.90 331.79V343.48M100.90 330.17V341.46M101.62 332.79V342.37M102.33 333.40V343.07M103.49 328.69V339.90M104.36 328.85V343.64M105.19 327.54V341.15M105.90 330.03V335.86M106.75 329.20V340.94M107.56 328.08V339.54M108.47 327.77V337.61M109.43 328.01V340.25M110.12 325.38V338.71M110.76 325.95V335.70M111.66 326.56V337.84M112.55 325.49V333.77M113.22 324.97V338.81M113.89 323.13V334.25M114.87 325.98V335.92M115.74 322.99V332.60M116.55 323.60V331.02M117.71 323.15V336.55M118.43 322.25V330.82M119.11 323.32V332.40M120.04 322.80V330.06M121.04 323.15V330.28M122.09 320.80V332.89M123.22 319.28V328.87M124.37 320.72V330.77M125.15 321.00V330.44M125.80 319.07V328.73M126.81 318.61V330.23M127.48 319.29V328.12M128.49 318.09V328.78M129.52 320.12V330.60M130.67 316.10V330.15M131.52 315.59V328.11M132.27 317.66V329.87M133.26 315.66V323.82M134.42 314.68V326.71M135.54 317.97V325.38M136.27 315.67V329.02M137.40 317.60V327.62M138.33 317.00V328.22M139.25 317.10V324.32M140.24 313.36V322.79M141.19 316.47V327.50M141.83 312.09V324.90M142.87 313.73V324.20M143.73 315.50V322.43M144.41 315.13V324.82M145.34 313.62V323.70M146.48 311.67V321.55M147.41 310.63V321.34M148.42 312.42V323.91M149.35 311.66V321.63M150.49 312.36V321.10M151.46 311.49V324.95M152.44 312.14V320.77M153.29 312.92V322.43M154.39 311.27V319.20M155.04 309.38V319.66M156.04 308.65V323.90M156.97 308.62V319.89M158.11 309.79V317.33M159.18 311.69V323.47M159.83 308.88V317.39M160.76 310.61V322.22M161.53 308.68V322.48M162.20 308.55V316.32M163.25 307.41V316.46M164.36 309.46V317.38M165.51 309.42V316.42M166.32 306.37V321.65M167.19 308.55V318.75M168.28 309.76V319.90M169.43 308.45V317.14M170.58 308.20V316.47M171.67 307.68V318.13M172.46 306.45V316.02M173.51 307.22V319.66M174.44 304.97V316.13M175.43 307.75V316.95M176.41 307.78V316.47M177.54 307.54V315.87M178.62 306.54V312.46M179.54 306.21V318.57M180.53 304.34V314.48M181.64 303.79V312.32M182.63 303.10V316.04M183.78 306.18V315.38M184.70 305.90V316.56M185.56 304.12V316.41M186.59 306.07V311.13M187.66 303.73V311.59M188.36 304.40V311.68M189.49 305.26V316.84M190.51 303.74V314.75M191.51 304.72V313.30M192.18 305.18V316.38M193.27 302.17V310.32M194.23 302.25V312.45M195.07 302.05V309.38M195.95 304.09V312.27M196.88 303.33V315.16M197.99 301.39V314.41M198.89 303.59V314.42M199.58 302.09V313.04M200.27 303.59V313.21M201.36 302.78V312.06M202.37 301.75V311.44M203.35 300.90V313.67M204.28 301.05V309.30M205.00 300.06V309.40M205.86 299.45V308.74M206.86 302.53V311.96M207.93 299.60V312.88M208.84 301.06V308.52M209.53 299.84V307.59M210.67 302.22V312.12M211.54 300.36V312.27M212.33 299.00V312.16M213.27 300.35V309.45M214.43 301.07V308.31M215.36 298.00V312.99M216.30 300.83V311.63M217.23 298.43V312.12M218.24 297.31V310.71M219.40 299.21V307.57M220.37 298.43V308.90M221.09 300.45V311.33M221.83 301.21V311.93M222.98 297.50V311.26M224.01 299.25V310.10M225.04 300.12V306.87M226.05 298.76V312.26M226.90 299.58V306.09M227.54 300.42V309.32M228.69 300.35V306.17M229.69 299.72V305.27M230.80 300.06V307.89M231.83 297.15V311.42M232.78 299.86V305.20M233.76 298.32V306.28M234.48 299.07V306.49M235.30 298.99V309.66M236.18 296.29V307.82M236.97 295.71V308.79M238.05 299.14V310.95M239.03 298.55V305.80M239.71 299.40V305.35M240.51 297.72V306.70M241.16 299.09V303.98M241.81 298.59V308.26M242.53 295.48V310.64M243.49 299.05V304.92M244.39 294.97V310.44M245.42 295.18V304.16M246.33 297.46V304.92M247.26 296.97V310.13M247.93 298.06V304.47M248.68 297.93V305.79M249.82 297.80V306.51M250.54 298.10V304.58M251.48 297.77V304.93M252.39 298.35V308.96M253.05 297.22V309.78M253.77 298.22V306.21M254.74 297.21V304.27M255.75 296.17V305.09M256.71 294.62V306.19M257.55 295.89V306.06M258.23 294.09V303.34M259.26 296.66V307.88M260.17 294.49V305.62M260.94 294.75V308.07M261.84 293.65V307.17M262.97 297.23V308.73M264.02 293.37V304.47M264.95 293.61V306.64M265.73 296.68V308.48M266.73 297.16V303.57M267.66 296.80V304.94M268.65 296.94V303.36M269.75 296.89V302.26M270.83 294.41V304.68M271.92 296.36V301.32M272.99 294.44V303.54M273.93 296.46V303.29M274.87 293.02V303.23M275.53 296.31V303.10M276.50 293.74V305.74M277.60 293.78V305.47M278.55 293.78V305.81M279.71 295.74V305.09M280.41 295.61V307.02M281.25 294.08V301.94M282.16 295.81V304.45M283.31 293.26V304.94M284.24 294.92V305.62M285.08 294.79V303.97M286.23 292.74V304.76M286.93 292.22V302.94M287.90 293.56V305.40M288.55 295.18V301.82M289.29 292.79V300.61M289.97 293.55V300.20M291.03 294.33V301.77M291.98 290.68V301.55M292.73 294.04V304.97M293.86 294.64V299.63M294.66 294.07V304.59M295.66 291.90V302.03M296.52 290.56V299.55M297.16 294.60V304.88M298.07 292.02V303.67M299.14 292.82V301.31M299.83 293.31V300.32M300.96 291.39V300.86M301.86 292.90V303.03M303.01 293.58V303.01M303.91 289.91V300.17M304.89 293.92V302.38M306.04 291.27V298.71M307.20 292.16V302.46M308.34 291.86V299.88M309.20 290.92V301.09M309.92 292.75V299.02M310.61 293.57V301.85M311.41 293.43V303.45M312.37 290.42V299.38M313.33 293.15V301.71M314.21 291.77V302.22M315.33 291.53V300.67M316.39 293.39V303.62" stroke="#e3861f" stroke-width="0.7" stroke-opacity="0.9" fill="none"/>
<polyline points="61.98,401.88 63.08,398.83 64.17,385.25 65.27,385.11 66.36,374.99 67.45,377.60 68.55,368.02 69.64,371.91 70.74,363.40 71.83,368.58 72.93,359.27 74.02,364.95 75.12,356.98 76.21,361.78 77.30,353.66 78.40,359.63 79.49,350.97 80.59,356.62 81.68,349.30 82.78,354.25 83.87,346.54 84.96,352.75 86.06,344.63 87.15,350.05 88.25,342.45 89.34,348.02 90.44,340.70 91.53,346.04 92.63,339.56 93.72,344.65 94.81,337.76 95.91,342.78 97.00,335.43 98.10,341.90 99.19,334.61 100.29,340.79 101.38,333.52 102.48,338.67 103.57,331.27 104.66,338.05 105.76,330.08 106.85,335.89 107.95,329.09 109.04,334.54 110.14,328.48 111.23,334.28 112.32,327.40 113.42,332.29 114.51,326.19 115.61,331.92 116.70,324.55 117.80,330.32 118.89,323.79 119.99,330.18 121.08,323.05 122.17,328.22 123.27,321.63 124.36,327.36 125.46,320.85 126.55,326.67 127.65,320.60 128.74,326.30 129.84,318.97 130.93,325.12 132.02,318.88 133.12,325.12 134.21,318.04 135.31,323.56 136.40,317.20 137.50,322.87 138.59,316.66 139.68,322.99 140.78,316.21 141.87,322.26 142.97,315.08 144.06,320.75 145.16,314.93 146.25,320.89 147.35,313.91 148.44,319.88 149.53,313.69 150.63,320.14 151.72,312.67 152.82,319.35 153.91,311.92 155.01,318.25 156.10,311.99 157.20,318.35 158.29,311.28 159.38,317.33 160.48,310.30 161.57,317.41 162.67,309.67 163.76,316.62 164.86,309.65 165.95,316.03 167.04,309.40 168.14,315.03 169.23,308.95 170.33,315.04 171.42,307.63 172.52,314.67 173.61,307.96 174.71,314.12 175.80,307.44 176.89,313.89 177.99,306.87 179.08,312.83 180.18,306.69 181.27,312.23 182.37,306.19 183.46,312.10 184.56,305.66 185.65,312.05 186.74,304.72 187.84,311.83 188.93,304.74 190.03,310.93 191.12,304.82 192.22,310.82 193.31,304.57 194.40,309.85 195.50,303.56 196.59,309.63 197.69,302.99 198.78,309.87 199.88,303.03 200.97,309.85 202.07,303.15 203.16,308.82 204.25,302.41 205.35,309.26 206.44,302.60 207.54,308.55 208.63,301.36 209.73,307.75 210.82,301.32 211.92,308.09 213.01,301.44 214.10,307.65 215.20,300.52 216.29,307.31 217.39,300.81 218.48,307.17 219.58,301.05 220.67,307.20 221.76,300.78 222.86,307.16 223.95,299.50 225.05,306.75 226.14,299.36 227.24,306.28 228.33,299.80 229.43,306.04 230.52,299.15 231.61,305.29 232.71,298.82 233.80,305.26 234.90,298.91 235.99,305.01 237.09,298.96 238.18,305.50 239.28,298.20 240.37,304.37 241.46,298.00 242.56,305.16 243.65,297.89 244.75,304.71 245.84,298.20 246.94,304.53 248.03,297.89 249.12,304.61 250.22,297.34 251.31,303.75 252.41,296.97 253.50,304.09 254.60,297.58 255.69,303.29 256.79,297.63 257.88,303.76 258.97,297.38 260.07,303.03 261.16,296.48 262.26,302.91 263.35,296.82 264.45,302.43 265.54,296.88 266.64,302.80 267.73,296.57 268.82,303.05 269.92,296.50 271.01,302.10 272.11,296.12 273.20,302.57 274.30,295.27 275.39,301.48 276.48,295.87 277.58,301.25 278.67,294.90 279.77,301.82 280.86,294.83 281.96,301.34 283.05,294.84 284.15,301.27 285.24,295.06 286.33,301.32 287.43,294.12 288.52,301.01 289.62,294.56 290.71,300.30 291.81,293.53 292.90,300.96 294.00,293.62 295.09,300.60 296.18,293.78 297.28,300.53 298.37,293.34 299.47,299.86 300.56,293.18 301.66,299.29 302.75,293.34 303.84,299.99 304.94,293.08 306.03,299.50 307.13,292.83 308.22,299.79 309.32,293.14 310.41,299.45 311.51,292.82 312.60,298.90 313.69,293.24 314.79,299.29 315.88,293.05 316.98,299.22" fill="none" stroke="#e3861f" stroke-width="0.7999999999999999" stroke-opacity="1.0" stroke-linejoin="round"/>
<polyline points="61.80,407.70 62.71,399.23 63.62,392.50 64.54,387.10 65.45,382.72 66.36,379.12 67.27,376.11 68.18,373.56 69.10,371.37 70.01,369.44 70.92,367.72 71.83,366.17 72.74,364.75 73.66,363.42 74.57,362.18 75.48,361.01 76.39,359.89 77.30,358.81 78.22,357.77 79.13,356.76 80.04,355.78 80.95,354.82 81.86,353.89 82.78,352.97 83.69,352.07 84.60,351.20 85.51,350.33 86.42,349.48 87.34,348.65 88.25,347.83 89.16,347.03 90.07,346.23 90.98,345.45 91.90,344.69 92.81,343.93 93.72,343.19 94.63,342.46 95.54,341.74 96.46,341.03 97.37,340.34 98.28,339.65 99.19,338.98 100.10,338.32 101.02,337.66 101.93,337.02 102.84,336.39 103.75,335.77 104.66,335.15 105.58,334.55 106.49,333.96 107.40,333.37 108.31,332.80 109.22,332.23 110.14,331.67 111.05,331.13 111.96,330.59 112.87,330.06 113.78,329.53 114.70,329.02 115.61,328.51 116.52,328.02 117.43,327.52 118.34,327.04 119.26,326.57 120.17,326.10 121.08,325.64 121.99,325.19 122.90,324.74 123.82,324.30 124.73,323.87 125.64,323.45 126.55,323.03 127.46,322.62 128.38,322.21 129.29,321.81 130.20,321.42 131.11,321.03 132.02,320.65 132.94,320.28 133.85,319.91 134.76,319.55 135.67,319.19 136.58,318.84 137.50,318.50 138.41,318.16 139.32,317.82 140.23,317.49 141.14,317.17 142.06,316.85 142.97,316.54 143.88,316.23 144.79,315.92 145.70,315.62 146.62,315.33 147.53,315.04 148.44,314.75 149.35,314.47 150.26,314.19 151.18,313.92 152.09,313.66 153.00,313.39 153.91,313.13 154.82,312.88 155.74,312.63 156.65,312.38 157.56,312.13 158.47,311.90 159.38,311.66 160.30,311.43 161.21,311.20 162.12,310.97 163.03,310.75 163.94,310.53 164.86,310.32 165.77,310.11 166.68,309.90 167.59,309.70 168.50,309.50 169.42,309.30 170.33,309.10 171.24,308.91 172.15,308.72 173.06,308.54 173.98,308.35 174.89,308.17 175.80,308.00 176.71,307.82 177.62,307.65 178.54,307.48 179.45,307.32 180.36,307.15 181.27,306.99 182.18,306.83 183.10,306.68 184.01,306.52 184.92,306.37 185.83,306.23 186.74,306.08 187.66,305.93 188.57,305.79 189.48,305.65 190.39,305.52 191.30,305.38 192.22,305.25 193.13,305.12 194.04,304.99 194.95,304.86 195.86,304.74 196.78,304.61 197.69,304.49 198.60,304.37 199.51,304.26 200.42,304.14 201.34,304.03 202.25,303.92 203.16,303.81 204.07,303.70 204.98,303.59 205.90,303.49 206.81,303.38 207.72,303.28 208.63,303.18 209.54,303.09 210.46,302.99 211.37,302.89 212.28,302.80 213.19,302.71 214.10,302.62 215.02,302.53 215.93,302.44 216.84,302.35 217.75,302.27 218.66,302.18 219.58,302.10 220.49,302.02 221.40,301.94 222.31,301.86 223.22,301.78 224.14,301.71 225.05,301.63 225.96,301.56 226.87,301.49 227.78,301.42 228.70,301.34 229.61,301.28 230.52,301.21 231.43,301.14 232.34,301.07 233.26,301.01 234.17,300.95 235.08,300.88 235.99,300.82 236.90,300.76 237.82,300.70 238.73,300.64 239.64,300.58 240.55,300.53 241.46,300.47 242.38,300.41 243.29,300.36 244.20,300.31 245.11,300.25 246.02,300.20 246.94,300.15 247.85,300.10 248.76,300.05 249.67,300.00 250.58,299.95 251.50,299.91 252.41,299.86 253.32,299.81 254.23,299.77 255.14,299.72 256.06,299.68 256.97,299.64 257.88,299.59 258.79,299.55 259.70,299.51 260.62,299.47 261.53,299.43 262.44,299.39 263.35,299.35 264.26,299.32 265.18,299.28 266.09,299.24 267.00,299.21 267.91,299.17 268.82,299.14 269.74,299.10 270.65,299.07 271.56,299.03 272.47,299.00 273.38,298.97 274.30,298.94 275.21,298.91 276.12,298.88 277.03,298.85 277.94,298.82 278.86,298.79 279.77,298.76 280.68,298.73 281.59,298.70 282.50,298.67 283.42,298.65 284.33,298.62 285.24,298.59 286.15,298.57 287.06,298.54 287.98,298.52 288.89,298.49 289.80,298.47 290.71,298.45 291.62,298.42 292.54,298.40 293.45,298.38 294.36,298.35 295.27,298.33 296.18,298.31 297.10,298.29 298.01,298.27 298.92,298.25 299.83,298.23 300.74,298.21 301.66,298.19 302.57,298.17 303.48,298.15 304.39,298.13 305.30,298.11 306.22,298.09 307.13,298.07 308.04,298.06 308.95,298.04 309.86,298.02 310.78,298.01 311.69,297.99 312.60,297.97 313.51,297.96 314.42,297.94 315.34,297.93 316.25,297.91 317.16,297.90" fill="none" stroke="#666" stroke-width="0.45" stroke-opacity="1.0" stroke-linejoin="round"/>
<polyline points="61.80,407.70 62.71,392.77 63.62,389.98 64.54,388.82 65.45,387.88 66.36,387.00 67.27,386.14 68.18,385.29 69.10,384.47 70.01,383.66 70.92,382.87 71.83,382.10 72.74,381.35 73.66,380.61 74.57,379.89 75.48,379.19 76.39,378.50 77.30,377.82 78.22,377.16 79.13,376.52 80.04,375.89 80.95,375.27 81.86,374.67 82.78,374.08 83.69,373.50 84.60,372.93 85.51,372.38 86.42,371.84 87.34,371.32 88.25,370.80 89.16,370.29 90.07,369.80 90.98,369.32 91.90,368.85 92.81,368.39 93.72,367.93 94.63,367.49 95.54,367.06 96.46,366.64 97.37,366.23 98.28,365.82 99.19,365.43 100.10,365.04 101.02,364.66 101.93,364.29 102.84,363.93 103.75,363.58 104.66,363.23 105.58,362.90 106.49,362.57 107.40,362.24 108.31,361.93 109.22,361.62 110.14,361.32 111.05,361.02 111.96,360.73 112.87,360.45 113.78,360.17 114.70,359.90 115.61,359.64 116.52,359.38 117.43,359.13 118.34,358.88 119.26,358.64 120.17,358.40 121.08,358.17 121.99,357.95 122.90,357.72 123.82,357.51 124.73,357.30 125.64,357.09 126.55,356.89 127.46,356.69 128.38,356.50 129.29,356.31 130.20,356.12 131.11,355.94 132.02,355.77 132.94,355.59 133.85,355.42 134.76,355.26 135.67,355.10 136.58,354.94 137.50,354.78 138.41,354.63 139.32,354.48 140.23,354.34 141.14,354.20 142.06,354.06 142.97,353.92 143.88,353.79 144.79,353.66 145.70,353.54 146.62,353.41 147.53,353.29 148.44,353.17 149.35,353.06 150.26,352.94 151.18,352.83 152.09,352.73 153.00,352.62 153.91,352.52 154.82,352.41 155.74,352.32 156.65,352.22 157.56,352.12 158.47,352.03 159.38,351.94 160.30,351.85 161.21,351.77 162.12,351.68 163.03,351.60 163.94,351.52 164.86,351.44 165.77,351.36 166.68,351.28 167.59,351.21 168.50,351.14 169.42,351.07 170.33,351.00 171.24,350.93 172.15,350.86 173.06,350.80 173.98,350.74 174.89,350.67 175.80,350.61 176.71,350.55 177.62,350.50 178.54,350.44 179.45,350.38 180.36,350.33 181.27,350.28 182.18,350.22 183.10,350.17 184.01,350.12 184.92,350.08 185.83,350.03 186.74,349.98 187.66,349.94 188.57,349.89 189.48,349.85 190.39,349.81 191.30,349.77 192.22,349.72 193.13,349.69 194.04,349.65 194.95,349.61 195.86,349.57 196.78,349.54 197.69,349.50 198.60,349.46 199.51,349.43 200.42,349.40 201.34,349.37 202.25,349.33 203.16,349.30 204.07,349.27 204.98,349.24 205.90,349.21 206.81,349.19 207.72,349.16 208.63,349.13 209.54,349.10 210.46,349.08 211.37,349.05 212.28,349.03 213.19,349.00 214.10,348.98 215.02,348.96 215.93,348.93 216.84,348.91 217.75,348.89 218.66,348.87 219.58,348.85 220.49,348.83 221.40,348.81 222.31,348.79 223.22,348.77 224.14,348.75 225.05,348.73 225.96,348.71 226.87,348.70 227.78,348.68 228.70,348.66 229.61,348.65 230.52,348.63 231.43,348.62 232.34,348.60 233.26,348.59 234.17,348.57 235.08,348.56 235.99,348.54 236.90,348.53 237.82,348.52 238.73,348.50 239.64,348.49 240.55,348.48 241.46,348.47 242.38,348.45 243.29,348.44 244.20,348.43 245.11,348.42 246.02,348.41 246.94,348.40 247.85,348.39 248.76,348.38 249.67,348.37 250.58,348.36 251.50,348.35 252.41,348.34 253.32,348.33 254.23,348.32 255.14,348.31 256.06,348.30 256.97,348.30 257.88,348.29 258.79,348.28 259.70,348.27 260.62,348.26 261.53,348.26 262.44,348.25 263.35,348.24 264.26,348.24 265.18,348.23 266.09,348.22 267.00,348.22 267.91,348.21 268.82,348.20 269.74,348.20 270.65,348.19 271.56,348.19 272.47,348.18 273.38,348.17 274.30,348.17 275.21,348.16 276.12,348.16 277.03,348.15 277.94,348.15 278.86,348.14 279.77,348.14 280.68,348.13 281.59,348.13 282.50,348.12 283.42,348.12 284.33,348.12 285.24,348.11 286.15,348.11 287.06,348.10 287.98,348.10 288.89,348.10 289.80,348.09 290.71,348.09 291.62,348.08 292.54,348.08 293.45,348.08 294.36,348.07 295.27,348.07 296.18,348.07 297.10,348.07 298.01,348.06 298.92,348.06 299.83,348.06 300.74,348.05 301.66,348.05 302.57,348.05 303.48,348.05 304.39,348.04 305.30,348.04 306.22,348.04 307.13,348.04 308.04,348.03 308.95,348.03 309.86,348.03 310.78,348.03 311.69,348.02 312.60,348.02 313.51,348.02 314.42,348.02 315.34,348.02 316.25,348.01 317.16,348.01" fill="none" stroke="#666" stroke-width="0.45" stroke-opacity="1.0" stroke-linejoin="round"/>
<polyline points="61.80,408.70 62.71,406.88 63.62,405.25 64.54,403.78 65.45,402.46 66.36,401.27 67.27,400.21 68.18,399.25 69.10,398.38 70.01,397.61 70.92,396.91 71.83,396.29 72.74,395.72 73.66,395.21 74.57,394.76 75.48,394.35 76.39,393.98 77.30,393.64 78.22,393.34 79.13,393.07 80.04,392.83 80.95,392.61 81.86,392.41 82.78,392.23 83.69,392.07 84.60,391.92 85.51,391.79 86.42,391.67 87.34,391.57 88.25,391.47 89.16,391.38 90.07,391.30 90.98,391.22 91.90,391.16 92.81,391.10 93.72,391.04 94.63,390.99 95.54,390.94 96.46,390.90 97.37,390.86 98.28,390.83 99.19,390.79 100.10,390.76 101.02,390.73 101.93,390.71 102.84,390.68 103.75,390.66 104.66,390.64 105.58,390.62 106.49,390.60 107.40,390.58 108.31,390.56 109.22,390.55 110.14,390.53 111.05,390.52 111.96,390.50 112.87,390.49 113.78,390.48 114.70,390.47 115.61,390.45 116.52,390.44 117.43,390.43 118.34,390.42 119.26,390.41 120.17,390.40 121.08,390.39 121.99,390.38 122.90,390.37 123.82,390.36 124.73,390.35 125.64,390.34 126.55,390.33 127.46,390.32 128.38,390.31 129.29,390.30 130.20,390.29 131.11,390.28 132.02,390.27 132.94,390.26 133.85,390.26 134.76,390.25 135.67,390.24 136.58,390.23 137.50,390.22 138.41,390.21 139.32,390.20 140.23,390.19 141.14,390.18 142.06,390.18 142.97,390.17 143.88,390.16 144.79,390.15 145.70,390.14 146.62,390.13 147.53,390.12 148.44,390.12 149.35,390.11 150.26,390.10 151.18,390.09 152.09,390.08 153.00,390.07 153.91,390.06 154.82,390.06 155.74,390.05 156.65,390.04 157.56,390.03 158.47,390.02 159.38,390.01 160.30,390.00 161.21,390.00 162.12,389.99 163.03,389.98 163.94,389.97 164.86,389.96 165.77,389.95 166.68,389.94 167.59,389.94 168.50,389.93 169.42,389.92 170.33,389.91 171.24,389.90 172.15,389.89 173.06,389.88 173.98,389.88 174.89,389.87 175.80,389.86 176.71,389.85 177.62,389.84 178.54,389.83 179.45,389.83 180.36,389.82 181.27,389.81 182.18,389.80 183.10,389.79 184.01,389.78 184.92,389.77 185.83,389.77 186.74,389.76 187.66,389.75 188.57,389.74 189.48,389.73 190.39,389.72 191.30,389.71 192.22,389.71 193.13,389.70 194.04,389.69 194.95,389.68 195.86,389.67 196.78,389.66 197.69,389.66 198.60,389.65 199.51,389.64 200.42,389.63 201.34,389.62 202.25,389.61 203.16,389.60 204.07,389.60 204.98,389.59 205.90,389.58 206.81,389.57 207.72,389.56 208.63,389.55 209.54,389.54 210.46,389.54 211.37,389.53 212.28,389.52 213.19,389.51 214.10,389.50 215.02,389.49 215.93,389.48 216.84,389.48 217.75,389.47 218.66,389.46 219.58,389.45 220.49,389.44 221.40,389.43 222.31,389.43 223.22,389.42 224.14,389.41 225.05,389.40 225.96,389.39 226.87,389.38 227.78,389.37 228.70,389.37 229.61,389.36 230.52,389.35 231.43,389.34 232.34,389.33 233.26,389.32 234.17,389.31 235.08,389.31 235.99,389.30 236.90,389.29 237.82,389.28 238.73,389.27 239.64,389.26 240.55,389.26 241.46,389.25 242.38,389.24 243.29,389.23 244.20,389.22 245.11,389.21 246.02,389.20 246.94,389.20 247.85,389.19 248.76,389.18 249.67,389.17 250.58,389.16 251.50,389.15 252.41,389.14 253.32,389.14 254.23,389.13 255.14,389.12 256.06,389.11 256.97,389.10 257.88,389.09 258.79,389.09 259.70,389.08 260.62,389.07 261.53,389.06 262.44,389.05 263.35,389.04 264.26,389.03 265.18,389.03 266.09,389.02 267.00,389.01 267.91,389.00 268.82,388.99 269.74,388.98 270.65,388.97 271.56,388.97 272.47,388.96 273.38,388.95 274.30,388.94 275.21,388.93 276.12,388.92 277.03,388.92 277.94,388.91 278.86,388.90 279.77,388.89 280.68,388.88 281.59,388.87 282.50,388.86 283.42,388.86 284.33,388.85 285.24,388.84 286.15,388.83 287.06,388.82 287.98,388.81 288.89,388.81 289.80,388.80 290.71,388.79 291.62,388.78 292.54,388.77 293.45,388.76 294.36,388.75 295.27,388.75 296.18,388.74 297.10,388.73 298.01,388.72 298.92,388.71 299.83,388.70 300.74,388.69 301.66,388.69 302.57,388.68 303.48,388.67 304.39,388.66 305.30,388.65 306.22,388.64 307.13,388.64 308.04,388.63 308.95,388.62 309.86,388.61 310.78,388.60 311.69,388.59 312.60,388.58 313.51,388.58 314.42,388.57 315.34,388.56 316.25,388.55 317.16,388.54" fill="none" stroke="#666" stroke-width="0.4" stroke-opacity="1.0" stroke-linejoin="round"/>
<line x1="500.00" y1="400.46" x2="507.00" y2="400.46" stroke="#000" stroke-width="1.6"/>
<line x1="681.00" y1="400.46" x2="674.00" y2="400.46" stroke="#000" stroke-width="1.6"/>
<line x1="500.00" y1="364.02" x2="507.00" y2="364.02" stroke="#000" stroke-width="1.6"/>
<line x1="681.00" y1="364.02" x2="674.00" y2="364.02" stroke="#000" stroke-width="1.6"/>
<line x1="500.00" y1="327.58" x2="507.00" y2="327.58" stroke="#000" stroke-width="1.6"/>
<line x1="681.00" y1="327.58" x2="674.00" y2="327.58" stroke="#000" stroke-width="1.6"/>
<line x1="500.00" y1="291.14" x2="507.00" y2="291.14" stroke="#000" stroke-width="1.6"/>
<line x1="681.00" y1="291.14" x2="674.00" y2="291.14" stroke="#000" stroke-width="1.6"/>
<line x1="545.25" y1="436.90" x2="545.25" y2="429.90" stroke="#000" stroke-width="1.6"/>
<line x1="545.25" y1="254.70" x2="545.25" y2="261.70" stroke="#000" stroke-width="1.6"/>
<line x1="590.50" y1="436.90" x2="590.50" y2="429.90" stroke="#000" stroke-width="1.6"/>
<line x1="590.50" y1="254.70" x2="590.50" y2="261.70" stroke="#000" stroke-width="1.6"/>
<line x1="635.75" y1="436.90" x2="635.75" y2="429.90" stroke="#000" stroke-width="1.6"/>
<line x1="635.75" y1="254.70" x2="635.75" y2="261.70" stroke="#000" stroke-width="1.6"/>
<text transform="translate(497.40 259.70)" font-size="14.7" text-anchor="end" font-weight="bold" font-style="normal">1.0</text>
<text transform="translate(497.40 296.14)" font-size="14.7" text-anchor="end" font-weight="bold" font-style="normal">0.8</text>
<text transform="translate(497.40 332.58)" font-size="14.7" text-anchor="end" font-weight="bold" font-style="normal">0.6</text>
<text transform="translate(497.40 369.02)" font-size="14.7" text-anchor="end" font-weight="bold" font-style="normal">0.4</text>
<text transform="translate(497.40 405.46)" font-size="14.7" text-anchor="end" font-weight="bold" font-style="normal">0.2</text>
<text transform="translate(497.40 441.90)" font-size="14.7" text-anchor="end" font-weight="bold" font-style="normal">0.0</text>
<text transform="translate(500.00 452.80)" font-size="14.7" text-anchor="middle" font-weight="normal" font-style="normal">0</text>
<text transform="translate(545.25 452.80)" font-size="14.7" text-anchor="middle" font-weight="normal" font-style="normal">5</text>
<text transform="translate(590.50 452.80)" font-size="14.7" text-anchor="middle" font-weight="normal" font-style="normal">10</text>
<text transform="translate(635.75 452.80)" font-size="14.7" text-anchor="middle" font-weight="normal" font-style="normal">15</text>
<text transform="translate(681.00 452.80)" font-size="14.7" text-anchor="middle" font-weight="normal" font-style="normal">20</text>
<text transform="translate(591.00 480.30) scale(1 1.08)" font-size="17.2" text-anchor="middle" font-weight="normal" font-style="normal">[Clotrimazole], µM</text>
<text transform="translate(503.20 282.00)" font-size="23.5" text-anchor="start" font-weight="bold" font-style="normal" style="fill:#1e1e1e">D</text>
<text transform="translate(468.50 372.50) rotate(-90)" font-size="16" text-anchor="start" font-weight="normal" font-style="normal"><tspan font-style="italic">k</tspan><tspan font-size="12" dy="3.8">obs</tspan><tspan dy="-3.8">,</tspan><tspan dx="1"> s</tspan><tspan font-size="12" dy="-6.3" dx="0.8">-1</tspan></text>
<line x1="536.20" y1="269.28" x2="536.20" y2="327.58" stroke="#555" stroke-width="1.3"/>
<line x1="532.30" y1="269.28" x2="540.10" y2="269.28" stroke="#555" stroke-width="1.3"/>
<line x1="532.30" y1="327.58" x2="540.10" y2="327.58" stroke="#555" stroke-width="1.3"/>
<line x1="567.88" y1="269.28" x2="567.88" y2="295.15" stroke="#555" stroke-width="1.3"/>
<line x1="563.98" y1="269.28" x2="571.77" y2="269.28" stroke="#555" stroke-width="1.3"/>
<line x1="563.98" y1="295.15" x2="571.77" y2="295.15" stroke="#555" stroke-width="1.3"/>
<line x1="635.75" y1="282.39" x2="635.75" y2="296.97" stroke="#555" stroke-width="1.3"/>
<line x1="631.85" y1="282.39" x2="639.65" y2="282.39" stroke="#555" stroke-width="1.3"/>
<line x1="631.85" y1="296.97" x2="639.65" y2="296.97" stroke="#555" stroke-width="1.3"/>
<line x1="635.75" y1="412.85" x2="635.75" y2="428.88" stroke="#555" stroke-width="1.3"/>
<line x1="631.85" y1="412.85" x2="639.65" y2="412.85" stroke="#555" stroke-width="1.3"/>
<line x1="631.85" y1="428.88" x2="639.65" y2="428.88" stroke="#555" stroke-width="1.3"/>
<circle cx="536.20" cy="298.43" r="3.9" fill="#000"/>
<circle cx="567.88" cy="282.58" r="3.9" fill="#000"/>
<circle cx="635.75" cy="289.68" r="3.9" fill="#000"/>
<rect x="564.08" y="415.43" width="7.6" height="7.6" fill="#000"/>
<rect x="631.95" y="416.88" width="7.6" height="7.6" fill="#000"/>
<rect x="60.80" y="8.30" width="273.40" height="181.50" fill="none" stroke="#000" stroke-width="1.8"/>
<rect x="415.34" y="11.10" width="272.66" height="182.00" fill="none" stroke="#000" stroke-width="1.8"/>
<rect x="61.80" y="256.40" width="273.30" height="181.56" fill="none" stroke="#000" stroke-width="1.8"/>
<rect x="500.00" y="254.70" width="181.00" height="182.20" fill="none" stroke="#000" stroke-width="1.8"/>
</svg>
</body></html>
